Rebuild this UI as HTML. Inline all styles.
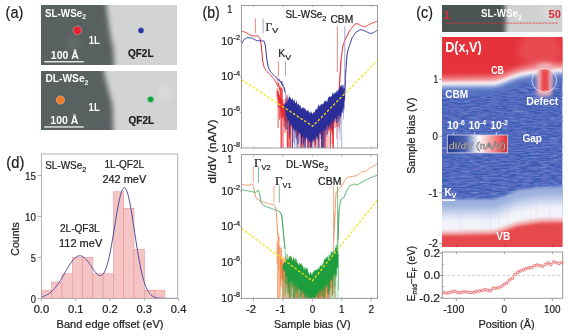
<!DOCTYPE html>
<html><head><meta charset="utf-8"><style>
html,body{margin:0;padding:0;background:#fff;}
svg{display:block;will-change:transform;}
text[fill="#222"],text[fill="#1a1a1a"],text[fill="#1e1e1e"]{stroke:#222;stroke-width:0.22px;}
</style></head><body>
<svg width="568" height="336" viewBox="0 0 568 336">
<defs>
<filter id="blur2" x="-20%" y="-20%" width="140%" height="140%"><feGaussianBlur stdDeviation="2.2"/></filter>
<filter id="blur35" x="-20%" y="-20%" width="140%" height="140%"><feGaussianBlur stdDeviation="2.6"/></filter>
<filter id="blur1" x="-20%" y="-20%" width="140%" height="140%"><feGaussianBlur stdDeviation="1"/></filter>
<filter id="blurS" x="-50%" y="-50%" width="200%" height="200%"><feGaussianBlur stdDeviation="4"/></filter>
<clipPath id="cstm5"><rect x="41" y="5" width="136" height="60"/></clipPath><clipPath id="cstm71"><rect x="41" y="71" width="136" height="59"/></clipPath><clipPath id="clipTop"><rect x="241.5" y="5.5" width="136.0" height="142.5"/></clipPath><clipPath id="clipBot"><rect x="241.5" y="155.2" width="136.0" height="143.2"/></clipPath><clipPath id="cstrip"><rect x="442" y="5" width="120.5" height="27"/></clipPath><clipPath id="cmap"><rect x="442.0" y="37.0" width="120.5" height="210.0"/></clipPath><filter id="streak" x="0" y="0" width="100%" height="100%">
<feTurbulence type="fractalNoise" baseFrequency="0.1 0.8" numOctaves="2" seed="5" result="t"/>
<feColorMatrix in="t" type="matrix" values="0 0 0 0 0.5  0 0 0 0 0.6  0 0 0 0 0.92  2.2 0 0 0 -1.0"/>
</filter>
<filter id="streak2" x="0" y="0" width="100%" height="100%">
<feTurbulence type="fractalNoise" baseFrequency="0.12 0.7" numOctaves="2" seed="9" result="t"/>
<feColorMatrix in="t" type="matrix" values="0 0 0 0 0.12  0 0 0 0 0.16  0 0 0 0 0.55  3.6 0 0 0 -1.45"/>
</filter>
<filter id="vstreak" x="0" y="0" width="100%" height="100%">
<feTurbulence type="fractalNoise" baseFrequency="0.5 0.02" numOctaves="1" seed="2" result="t"/>
<feColorMatrix in="t" type="matrix" values="0 0 0 0 0.45  0 0 0 0 0.55  0 0 0 0 0.85  1.6 0 0 0 -0.75"/>
</filter>
<filter id="bdef" x="-100%" y="-50%" width="300%" height="200%"><feGaussianBlur stdDeviation="2.5"/></filter>
<filter id="b15" x="-10%" y="-10%" width="120%" height="120%"><feGaussianBlur stdDeviation="1.5"/></filter>
<filter id="b3" x="-10%" y="-30%" width="120%" height="160%"><feGaussianBlur stdDeviation="3"/></filter>
<linearGradient id="cbar" x1="0" x2="1" y1="0" y2="0"><stop offset="0" stop-color="#24398f"/><stop offset="0.3" stop-color="#4c64b2"/><stop offset="0.52" stop-color="#ffffff"/><stop offset="0.72" stop-color="#f2a4a6"/><stop offset="1" stop-color="#e5262e"/></linearGradient>
</defs>
<rect width="568" height="336" fill="#fff"/>
<text x="5.6" y="18.3" font-size="16.9" font-weight="normal" fill="#1a1a1a" text-anchor="start" font-family='"Liberation Sans", sans-serif' textLength="17.8" lengthAdjust="spacingAndGlyphs" >(a)</text>
<g clip-path="url(#cstm5)">
<rect x="41" y="5" width="136" height="60" fill="#d2d3d3"/>
<polygon points="30,-5 105.5,-5 107.5,15 110.5,35 113.5,50 114.5,75 30,75" fill="#596060" filter="url(#blur35)"/>
<circle cx="73" cy="43" r="5" fill="#8a9090" opacity="0.5" filter="url(#blurS)"/>
</g>
<circle cx="77.3" cy="30.4" r="4.2" fill="#e8202a" stroke="#ffffff" stroke-opacity="0.45" stroke-width="0.7"/>
<circle cx="141" cy="30.6" r="3.0" fill="#2a32a0" stroke="#ffffff" stroke-opacity="0.45" stroke-width="0.7"/>
<text x="45" y="16.7" font-size="10.9" font-weight="bold" fill="#fff" text-anchor="start" font-family='"Liberation Sans", sans-serif' textLength="41" lengthAdjust="spacingAndGlyphs" >SL-WSe<tspan font-size="7.5" dy="2.5">2</tspan></text>
<text x="88.7" y="43.8" font-size="10" font-weight="bold" fill="#fff" text-anchor="start" font-family='"Liberation Sans", sans-serif' textLength="11.2" lengthAdjust="spacingAndGlyphs" >1L</text>
<text x="128" y="57.2" font-size="10.3" font-weight="bold" fill="#1e1e1e" text-anchor="start" font-family='"Liberation Sans", sans-serif' textLength="25.5" lengthAdjust="spacingAndGlyphs" >QF2L</text>
<text x="50.8" y="59.2" font-size="10.3" font-weight="bold" fill="#fff" text-anchor="start" font-family='"Liberation Sans", sans-serif' textLength="28" lengthAdjust="spacingAndGlyphs" >100 Å</text>
<rect x="44.3" y="61.1" width="39.5" height="1.3" fill="#f2f2f2"/>
<g clip-path="url(#cstm71)">
<rect x="41" y="71" width="136" height="59" fill="#d2d3d3"/>
<polygon points="30,60 102.5,60 104.5,75 108.5,90 112.5,105 113.5,140 30,140" fill="#596060" filter="url(#blur35)"/>
<circle cx="165" cy="93" r="4" fill="#ffffff" opacity="0.6" filter="url(#blurS)"/>
</g>
<circle cx="60.4" cy="100" r="4.2" fill="#f07a2a" stroke="#ffffff" stroke-opacity="0.45" stroke-width="0.7"/>
<circle cx="150.6" cy="99.4" r="3.2" fill="#18a040" stroke="#ffffff" stroke-opacity="0.45" stroke-width="0.7"/>
<text x="45.5" y="82.2" font-size="10.9" font-weight="bold" fill="#fff" text-anchor="start" font-family='"Liberation Sans", sans-serif' textLength="43" lengthAdjust="spacingAndGlyphs" >DL-WSe<tspan font-size="7.5" dy="2.5">2</tspan></text>
<text x="88.6" y="111.3" font-size="10" font-weight="bold" fill="#fff" text-anchor="start" font-family='"Liberation Sans", sans-serif' textLength="11.2" lengthAdjust="spacingAndGlyphs" >1L</text>
<text x="128.6" y="124.2" font-size="10.3" font-weight="bold" fill="#1e1e1e" text-anchor="start" font-family='"Liberation Sans", sans-serif' textLength="25.5" lengthAdjust="spacingAndGlyphs" >QF2L</text>
<text x="50.3" y="124.2" font-size="10.3" font-weight="bold" fill="#fff" text-anchor="start" font-family='"Liberation Sans", sans-serif' textLength="28" lengthAdjust="spacingAndGlyphs" >100 Å</text>
<rect x="44.3" y="126.3" width="39.5" height="1.3" fill="#f2f2f2"/>
<text x="202.6" y="17.9" font-size="16.4" font-weight="normal" fill="#1a1a1a" text-anchor="start" font-family='"Liberation Sans", sans-serif' textLength="17.2" lengthAdjust="spacingAndGlyphs" >(b)</text>
<g clip-path="url(#clipTop)">
<polyline points="277.0,76.3 277.2,78.9 277.4,80.1 277.6,81.1 277.8,82.7 278.0,84.3 278.2,82.4 278.4,86.6 278.6,86.1 278.8,83.8 279.0,89.1 279.2,88.8 279.4,89.0 279.6,87.1 279.8,91.5 280.0,85.7 280.2,88.5 280.4,100.5 280.6,88.0 280.8,92.2 281.0,99.3 281.2,112.8 281.4,91.6 281.6,87.4 281.8,107.8 282.0,104.8 282.2,88.7 282.4,102.5 282.6,118.2 282.8,99.7 283.0,156.4 283.2,103.6 283.4,108.6 283.6,105.5 283.8,105.8 284.0,110.0 284.2,126.8 284.4,122.5 284.6,114.9 284.8,111.4 285.0,105.6 285.2,98.7 285.4,115.0 285.6,102.5 285.8,102.2 286.0,112.3 286.2,102.3 286.4,109.4 286.6,110.1 286.8,123.0 287.0,95.4 287.2,110.7 287.4,108.9 287.6,147.3 287.8,103.4 288.0,112.8 288.2,110.9 288.4,105.4 288.6,101.7 288.8,110.9 289.0,103.4 289.2,130.2 289.4,138.6 289.6,107.1 289.8,112.4 290.0,115.6 290.2,114.3 290.4,151.7 290.6,112.3 290.8,121.6 291.0,115.5 291.2,102.3 291.4,114.2 291.6,114.8 291.8,104.6 292.0,101.9 292.2,114.1 292.4,152.3 292.6,112.4 292.8,110.9 293.0,110.7 293.2,105.8 293.4,127.4 293.6,121.0 293.8,105.7 294.0,117.9 294.2,109.4 294.4,117.7 294.6,107.9 294.8,104.6 295.0,109.1 295.2,111.3 295.4,111.8 295.6,121.8 295.8,106.3 296.0,107.6 296.2,110.6 296.4,139.5 296.6,132.2 296.8,116.0 297.0,125.4 297.2,119.6 297.4,123.8 297.6,112.7 297.8,121.4 298.0,111.6 298.2,109.4 298.4,136.4 298.6,128.0 298.8,127.1 299.0,109.0 299.2,114.9 299.4,120.1 299.6,123.2 299.8,108.0 300.0,123.0 300.2,116.5 300.4,122.2 300.6,111.4 300.8,117.9 301.0,115.2 301.2,154.0 301.4,140.9 301.6,119.1 301.8,146.5 302.0,123.9 302.2,129.7 302.4,124.3 302.6,137.9 302.8,121.2 303.0,112.2 303.2,109.0 303.4,122.1 303.6,123.0 303.8,127.5 304.0,122.5 304.2,142.4 304.4,125.4 304.6,120.8 304.8,113.7 305.0,131.9 305.2,129.5 305.4,133.8 305.6,127.1 305.8,117.8 306.0,126.5 306.2,110.8 306.4,125.1 306.6,132.8 306.8,121.2 307.0,117.6 307.2,131.1 307.4,121.4 307.6,164.4 307.8,121.3 308.0,125.5 308.2,124.2 308.4,152.9 308.6,152.3 308.8,133.3 309.0,115.8 309.2,129.6 309.4,122.0 309.6,113.3 309.8,113.5 310.0,131.6 310.2,125.6 310.4,148.8 310.6,114.1 310.8,123.3 311.0,136.1 311.2,129.4 311.4,122.9 311.6,116.8 311.8,141.3 312.0,124.5 312.2,136.7 312.4,128.7 312.6,128.2 312.8,116.6 313.0,133.0 313.2,128.4 313.4,129.6 313.6,122.0 313.8,136.5 314.0,130.7 314.2,130.5 314.4,119.2 314.6,132.1 314.8,130.0 315.0,145.0 315.2,133.3 315.4,131.9 315.6,146.9 315.8,137.2 316.0,129.1 316.2,116.2 316.4,124.9 316.6,124.7 316.8,126.0 317.0,110.8 317.2,119.1 317.4,122.7 317.6,132.3 317.8,118.7 318.0,126.6 318.2,226.3 318.4,124.1 318.6,124.4 318.8,125.0 319.0,109.3 319.2,131.3 319.4,125.7 319.6,126.3 319.8,130.5 320.0,133.6 320.2,109.5 320.4,117.3 320.6,123.7 320.8,134.6 321.0,114.4 321.2,121.1 321.4,150.6 321.6,121.6 321.8,120.0 322.0,119.2 322.2,118.2 322.4,111.2 322.6,108.7 322.8,139.4 323.0,121.0 323.2,129.5 323.4,112.8 323.6,131.0 323.8,155.1 324.0,118.7 324.2,122.3 324.4,108.3 324.6,104.7 324.8,115.0 325.0,157.1 325.2,117.4 325.4,104.0 325.6,122.7 325.8,107.3 326.0,105.3 326.2,124.1 326.4,120.5 326.6,124.1 326.8,110.3 327.0,110.2 327.2,108.2 327.4,122.2 327.6,102.3 327.8,124.1 328.0,114.4 328.2,131.1 328.4,101.6 328.6,123.7 328.8,118.8 329.0,116.5 329.2,115.1 329.4,100.8 329.6,110.8 329.8,103.3 330.0,128.9 330.2,101.5 330.4,156.6 330.6,124.1 330.8,124.7 331.0,121.6 331.2,116.5 331.4,104.8 331.6,130.1 331.8,106.1 332.0,132.9 332.2,112.8 332.4,113.1 332.6,134.8 332.8,118.4 333.0,183.8 333.2,101.8 333.4,149.4 333.6,97.5 333.8,123.2 334.0,110.8 334.2,97.0 334.4,111.6 334.6,114.9 334.8,113.9 335.0,111.0 335.2,112.3 335.4,112.1 335.6,105.8 335.8,115.6 336.0,95.1 336.2,101.3 336.4,106.0 336.6,109.0 336.8,100.6 337.0,126.6 337.2,100.2 337.4,96.8 337.6,111.9 337.8,95.4 338.0,102.1 338.2,103.5 338.4,97.4 338.6,98.2 338.8,95.0 339.0,92.3 339.2,87.7 339.4,85.0 339.6,83.1 339.8,79.6 340.0,76.7 340.2,73.1 340.4,69.9 340.6,66.7 340.8,63.3 341.0,60.0" fill="none" stroke="#e8222a" stroke-width="0.5" stroke-opacity="1.0" stroke-linejoin="round"/>
<path d="M277.0,88.4V97.1M277.8,90.3V99.9M278.1,91.1V128.0M278.4,92.0V108.0M278.9,93.7V96.4M279.2,94.5V102.5M279.5,95.5V119.7M279.8,96.5V107.3M280.2,97.3V109.3M280.7,98.5V117.3M281.0,99.3V150.0M281.4,100.2V150.0M281.9,101.3V105.8M282.7,103.1V118.0M283.2,104.2V115.2M284.0,106.0V115.9M284.2,106.4V121.0M284.9,107.2V133.0M285.2,107.5V120.3M285.5,107.8V128.8M286.5,108.8V116.4M287.2,109.4V150.0M287.9,109.2V114.0M288.2,109.1V113.9M288.7,109.0V150.0M289.3,108.8V118.5M289.9,109.1V150.0" stroke="#e8222a" stroke-width="0.75" stroke-opacity="1.0" fill="none"/>
<path d="M290.0,109.5V137.7M290.3,110.9V116.5M290.9,114.6V123.8M291.2,115.7V128.4M292.6,117.1V124.4M293.2,117.7V129.4M293.4,117.9V129.3M294.5,118.9V132.9M296.0,120.1V134.8M297.2,121.0V136.0M297.5,121.2V130.2M298.1,121.6V134.4M298.5,122.0V130.6M299.2,122.5V150.0M299.8,122.9V133.0M300.6,123.5V150.0M300.9,123.8V137.4M301.2,124.0V130.5M301.8,124.5V150.0M302.6,125.1V150.0M303.4,125.6V150.0M304.7,126.6V150.0M304.9,126.8V141.8M305.2,127.0V140.1M305.7,127.4V136.5M306.1,127.7V137.0M306.7,128.2V135.9M307.1,128.5V137.4M308.4,129.4V143.6M308.6,129.6V136.6M309.1,130.0V147.4M309.5,130.3V136.7M310.5,131.0V150.0M310.8,131.2V150.0M311.6,131.8V150.0M313.4,130.7V142.6M314.7,129.6V148.4M315.1,129.3V150.0M315.4,129.1V139.8M316.0,128.6V134.6M316.5,128.2V139.1M318.9,126.3V140.0M319.6,125.7V150.0M321.8,123.9V138.2M322.7,123.2V134.4M323.1,122.9V141.9M323.3,122.7V130.0M323.9,122.3V150.0M324.4,121.9V150.0M325.1,121.3V132.6M326.8,119.9V150.0M328.0,118.9V147.0M329.3,117.9V132.5M329.9,117.5V127.1M330.1,117.3V150.0M330.9,116.7V143.6M332.5,115.3V143.8M332.8,115.1V127.2M333.7,114.4V120.9M334.3,113.9V128.4M335.3,112.8V127.8M336.7,111.4V138.7M337.5,110.6V118.6M338.3,109.2V126.7M338.5,108.4V113.7M339.1,106.8V128.3M339.5,105.7V120.6M339.9,104.4V107.6M340.5,102.7V107.4" stroke="#e8222a" stroke-width="0.6" stroke-opacity="0.75" fill="none"/>
<polyline points="241.5,31.0 242.0,31.2 242.5,31.3 243.0,31.5 243.5,31.7 244.0,31.8 244.5,32.0 245.0,32.2 245.5,32.3 246.0,32.5 246.5,32.8 247.0,33.1 247.5,33.4 248.0,33.8 248.5,34.1 249.0,34.4 249.5,34.7 250.0,35.0 250.5,35.1 251.0,35.2 251.5,35.4 252.0,35.5 252.5,35.6 253.0,35.8 253.5,35.9 254.0,36.0 254.5,36.0 255.0,36.0 255.5,36.0 256.0,36.0 256.5,36.0 257.0,36.0 257.5,36.0 258.0,36.0 258.5,36.5 259.0,37.0 259.5,37.5 260.0,38.0 260.5,41.0 261.0,44.0 261.5,47.0 262.0,53.5 262.5,60.0 263.0,62.3 263.5,64.7 264.0,67.0 264.5,67.9 265.0,68.8 265.5,69.6 266.0,70.5 266.5,71.0 267.0,71.5 267.5,71.9 268.0,72.4 268.5,72.9 269.0,73.3 269.5,73.8 270.0,74.3 270.5,74.9 271.0,75.5 271.5,76.1 272.0,76.8 272.5,77.4 273.0,78.0 273.5,78.6 274.0,79.2 274.5,79.9 275.0,80.8 275.5,81.7 276.0,82.5 276.5,83.4 277.0,84.3 277.5,85.4 278.0,86.9" fill="none" stroke="#ea2a30" stroke-width="1.0" stroke-opacity="1.0" stroke-linejoin="round"/>
<polyline points="338.5,101.7 339.0,93.3 339.5,85.0 340.0,76.7 340.5,68.3 341.0,60.0 341.5,56.2 342.0,52.5 342.5,48.8 343.0,45.0 343.5,43.8 344.0,42.5 344.5,41.2 345.0,40.0 345.5,39.0 346.0,38.0 346.5,37.0 347.0,36.0 347.5,35.0 348.0,34.0 348.5,33.0 349.0,32.0 349.5,31.0 350.0,30.0 350.5,29.4 351.0,28.8 351.5,28.2 352.0,27.6 352.5,27.0 353.0,26.4 353.5,25.8 354.0,25.2 354.5,24.6 355.0,24.0 355.5,23.9 356.0,23.8 356.5,23.6 357.0,23.5 357.5,23.8 358.0,24.0 358.5,24.2 359.0,24.5 359.5,24.8 360.0,25.0 360.5,25.2 361.0,25.5 361.5,25.8 362.0,26.0 362.5,26.2 363.0,26.3 363.5,26.5 364.0,26.7 364.5,26.8 365.0,27.0 365.5,26.7 366.0,26.4 366.5,26.1 367.0,25.8 367.5,25.5 368.0,25.2 368.5,24.9 369.0,24.6 369.5,24.3 370.0,24.0 370.5,23.8 371.0,23.6 371.5,23.4 372.0,23.2 372.5,23.0 373.0,22.8 373.5,22.6 374.0,22.4 374.5,22.2 375.0,22.0 375.5,21.8 376.0,21.6 376.5,21.4 377.0,21.2 377.5,21.0" fill="none" stroke="#ea2a30" stroke-width="1.0" stroke-opacity="1.0" stroke-linejoin="round"/>
<polyline points="279.0,79.9 279.1,78.7 279.3,80.5 279.4,80.8 279.6,80.2 279.7,80.3 279.9,81.1 280.0,80.9 280.2,81.2 280.3,81.4 280.5,81.7 280.6,81.6 280.8,81.2 280.9,82.2 281.1,82.5 281.2,82.4 281.4,82.6 281.5,82.2 281.7,83.2 281.8,84.0 282.0,81.1 282.1,83.9 282.3,84.6 282.4,84.9 282.6,83.9 282.7,85.3 282.9,84.7 283.0,84.9 283.2,85.5 283.3,86.1 283.5,86.3 283.6,86.9 283.8,86.8 283.9,87.1 284.1,87.3 284.2,88.0 284.4,88.1 284.5,89.6 284.7,90.0 284.8,89.7 285.0,91.8 285.1,91.8 285.3,91.8 285.4,92.8 285.6,93.6 285.7,93.2 285.9,94.6 286.0,97.6 286.2,104.6 286.3,106.8 286.5,113.8 286.6,102.9 286.8,103.0 286.9,129.7 287.1,99.8 287.2,111.5 287.4,110.0 287.5,117.5 287.7,117.8 287.8,111.1 288.0,97.5 288.1,101.5 288.3,120.0 288.4,109.4 288.6,116.3 288.7,109.7 288.9,117.5 289.0,110.0 289.2,101.9 289.3,98.8 289.5,97.1 289.6,135.1 289.8,109.7 289.9,113.7 290.1,105.0 290.2,113.2 290.4,116.4 290.5,123.6 290.7,107.3 290.8,112.3 291.0,113.2 291.1,104.5 291.3,115.9 291.4,116.7 291.6,117.6 291.7,114.5 291.9,110.3 292.0,118.2 292.2,106.3 292.3,161.3 292.5,104.8 292.6,104.4 292.8,110.6 292.9,121.9 293.1,108.3 293.2,112.8 293.4,122.8 293.5,121.2 293.7,121.6 293.8,125.9 294.0,124.9 294.1,121.8 294.3,129.0 294.4,111.9 294.6,119.6 294.7,111.1 294.9,110.9 295.0,108.7 295.2,117.9 295.3,114.7 295.5,111.7 295.6,119.8 295.8,112.7 295.9,102.7 296.1,120.6 296.2,111.2 296.4,125.9 296.5,112.8 296.7,122.0 296.8,115.6 297.0,117.4 297.1,123.7 297.3,117.3 297.4,124.0 297.6,122.5 297.7,110.9 297.9,144.2 298.0,126.2 298.2,116.4 298.3,109.0 298.5,119.5 298.6,117.9 298.8,113.9 298.9,123.9 299.1,105.6 299.2,108.5 299.4,109.6 299.5,126.1 299.7,121.4 299.8,119.1 300.0,116.8 300.1,115.7 300.3,117.1 300.4,122.1 300.6,123.0 300.7,121.7 300.9,119.7 301.0,115.2 301.2,120.6 301.3,117.1 301.5,143.7 301.6,121.5 301.8,119.7 301.9,117.7 302.1,120.1 302.2,117.6 302.4,120.8 302.5,127.4 302.7,125.1 302.8,121.4 303.0,127.6 303.1,127.9 303.3,109.8 303.4,144.4 303.6,124.9 303.7,115.6 303.9,121.0 304.0,128.4 304.2,127.6 304.3,120.8 304.5,121.6 304.6,119.0 304.8,127.5 304.9,131.5 305.1,120.9 305.2,132.1 305.4,129.8 305.5,152.0 305.7,114.2 305.8,124.0 306.0,116.7 306.1,120.5 306.3,120.5 306.4,133.5 306.6,117.4 306.7,127.0 306.9,122.2 307.0,124.8 307.2,135.5 307.3,120.8 307.5,132.9 307.6,127.2 307.8,126.0 307.9,135.1 308.1,133.9 308.2,133.4 308.4,125.5 308.5,120.3 308.7,121.9 308.8,120.8 309.0,122.6 309.1,125.7 309.3,132.4 309.4,123.8 309.6,114.9 309.7,131.7 309.9,125.0 310.0,123.9 310.2,123.8 310.3,131.3 310.5,125.3 310.6,125.0 310.8,140.4 310.9,134.9 311.1,158.0 311.2,123.2 311.4,137.4 311.5,127.7 311.7,141.2 311.8,146.4 312.0,125.9 312.1,122.3 312.3,131.7 312.4,134.5 312.6,129.5 312.7,127.9 312.9,123.5 313.0,133.8 313.2,125.2 313.3,129.8 313.5,123.8 313.6,127.4 313.8,122.9 313.9,132.0 314.1,126.6 314.2,131.7 314.4,121.8 314.5,125.4 314.7,121.8 314.8,121.0 315.0,122.3 315.1,119.4 315.3,130.9 315.4,113.3 315.6,118.4 315.7,110.0 315.9,125.7 316.0,123.9 316.2,128.1 316.3,123.0 316.5,125.3 316.6,121.5 316.8,116.2 316.9,136.1 317.1,120.3 317.2,123.5 317.4,129.5 317.5,132.4 317.7,137.6 317.8,116.4 318.0,119.8 318.1,122.5 318.3,140.3 318.4,109.9 318.6,112.6 318.7,119.0 318.9,109.0 319.0,113.9 319.2,110.3 319.3,131.8 319.5,126.4 319.6,112.1 319.8,127.5 319.9,120.7 320.1,119.5 320.2,122.7 320.4,118.1 320.5,124.0 320.7,125.6 320.8,129.3 321.0,108.9 321.1,115.8 321.3,127.8 321.4,113.0 321.6,149.4 321.7,119.0 321.9,113.4 322.0,115.7 322.2,103.8 322.3,114.8 322.5,121.0 322.6,149.1 322.8,129.1 322.9,129.0 323.1,165.5 323.2,122.5 323.4,125.1 323.5,120.4 323.7,119.7 323.8,111.2 324.0,104.7 324.1,122.6 324.3,119.3 324.4,111.1 324.6,121.3 324.7,109.1 324.9,125.6 325.0,118.6 325.2,111.8 325.3,113.5 325.5,110.3 325.6,100.8 325.8,125.4 325.9,108.7 326.1,124.6 326.2,110.6 326.4,105.9 326.5,120.2 326.7,117.5 326.8,118.4 327.0,114.7 327.1,134.7 327.3,112.7 327.4,103.7 327.6,107.7 327.7,117.1 327.9,124.2 328.0,110.6 328.2,111.7 328.3,113.0 328.5,105.5 328.6,108.0 328.8,107.4 328.9,112.9 329.1,114.3 329.2,115.2 329.4,108.9 329.5,115.1 329.7,106.2 329.8,110.1 330.0,111.3 330.1,115.8 330.3,105.4 330.4,100.5 330.6,128.3 330.7,111.3 330.9,116.2 331.0,101.2 331.2,120.4 331.3,116.8 331.5,117.7 331.6,110.8 331.8,103.2 331.9,108.6 332.1,101.8 332.2,119.4 332.4,121.3 332.5,114.0 332.7,119.8 332.8,97.2 333.0,111.2 333.1,106.5 333.3,109.0 333.4,110.8 333.6,105.3 333.7,93.6 333.9,110.9 334.0,110.6 334.2,112.8 334.3,111.9 334.5,108.3 334.6,98.9 334.8,105.1 334.9,92.5 335.1,112.3 335.2,113.4 335.4,103.2 335.5,101.9 335.7,105.4 335.8,102.2 336.0,115.8 336.1,95.3 336.3,97.5 336.4,118.4 336.6,122.7 336.7,98.4 336.9,109.7 337.0,103.7 337.2,110.1 337.3,99.4 337.5,99.6 337.6,97.7 337.8,110.7 337.9,109.9 338.1,98.1 338.2,108.0 338.4,94.6 338.5,112.7 338.7,95.6 338.8,100.5 339.0,103.6 339.1,115.6 339.3,105.6 339.4,107.9 339.6,106.2 339.7,110.1 339.9,109.4 340.0,113.7 340.2,116.3 340.3,94.0 340.5,98.1 340.6,100.4 340.8,100.8 340.9,92.6 341.1,96.4 341.2,110.9 341.4,89.8 341.5,87.3 341.7,109.7 341.8,105.6 342.0,101.3 342.1,95.2 342.3,92.6 342.4,103.2 342.6,94.4 342.7,100.0 342.9,97.1 343.0,102.7 343.2,104.9 343.3,85.4 343.5,101.9 343.6,89.5 343.8,104.0 343.9,108.8 344.1,99.6 344.2,97.3 344.4,97.7 344.5,88.0 344.7,90.6 344.8,88.1 345.0,87.5 345.1,82.4 345.3,79.5 345.4,76.1 345.6,73.3 345.7,71.6 345.9,69.6" fill="none" stroke="#2b2e98" stroke-width="0.5" stroke-opacity="1.0" stroke-linejoin="round"/>
<polygon points="284.0,104.5 284.5,104.4 285.0,102.2 285.5,104.1 286.0,102.1 286.5,102.9 287.0,103.2 287.5,102.8 288.0,100.4 288.5,99.8 289.0,97.8 289.5,94.1 290.0,99.6 290.5,97.2 291.0,98.4 291.5,99.7 292.0,99.8 292.5,97.7 293.0,99.6 293.5,102.1 294.0,99.1 294.5,99.7 295.0,103.1 295.5,102.9 296.0,103.7 296.5,99.7 297.0,102.0 297.5,105.8 298.0,103.6 298.5,103.6 299.0,104.7 299.5,106.3 300.0,105.6 300.5,105.3 301.0,108.0 301.5,108.7 302.0,108.1 302.5,108.1 303.0,106.8 303.5,107.6 304.0,109.6 304.5,108.5 305.0,107.5 305.5,109.2 306.0,110.9 306.5,110.5 307.0,111.8 307.5,110.1 308.0,110.0 308.5,110.9 309.0,112.5 309.5,112.7 310.0,111.0 310.5,114.4 311.0,111.1 311.5,112.4 312.0,112.8 312.5,114.5 313.0,112.9 313.5,111.2 314.0,113.4 314.5,111.2 315.0,112.9 315.5,109.1 316.0,109.7 316.5,108.2 317.0,110.5 317.5,107.4 318.0,106.3 318.5,103.4 319.0,107.5 319.5,104.7 320.0,106.8 320.5,104.8 321.0,104.2 321.5,103.9 322.0,105.6 322.5,105.3 323.0,104.1 323.5,102.9 324.0,103.6 324.5,100.4 325.0,100.7 325.5,101.9 326.0,100.3 326.5,101.9 327.0,101.7 327.5,100.8 328.0,97.5 328.5,97.3 329.0,97.8 329.5,96.3 330.0,96.1 330.5,97.1 331.0,96.9 331.5,95.2 332.0,96.0 332.5,92.2 333.0,93.1 333.5,94.0 334.0,95.0 334.5,93.2 335.0,94.0 335.5,92.1 336.0,93.3 336.5,90.1 337.0,92.5 337.5,91.0 338.0,89.1 338.5,91.0 339.0,88.9 339.5,88.0 340.0,86.3 340.5,85.4 341.0,87.4 341.5,84.9 342.0,84.0 342.5,86.0 343.0,88.3 343.5,87.6 344.0,92.6 344.5,94.4 345.0,94.1 345.0,98.5 344.5,100.2 344.0,102.8 343.5,107.0 343.0,107.6 342.5,112.1 342.0,113.5 341.5,112.4 341.0,116.1 340.5,117.1 340.0,117.5 339.5,114.3 339.0,116.3 338.5,114.7 338.0,114.5 337.5,117.8 337.0,117.7 336.5,120.1 336.0,117.6 335.5,118.6 335.0,118.6 334.5,120.3 334.0,122.2 333.5,120.5 333.0,120.3 332.5,124.6 332.0,124.6 331.5,121.3 331.0,125.7 330.5,122.9 330.0,124.0 329.5,126.5 329.0,126.4 328.5,129.0 328.0,126.1 327.5,124.6 327.0,126.5 326.5,126.6 326.0,131.5 325.5,128.7 325.0,131.4 324.5,130.6 324.0,127.4 323.5,130.9 323.0,130.5 322.5,132.6 322.0,130.9 321.5,130.2 321.0,130.1 320.5,132.6 320.0,133.7 319.5,133.0 319.0,132.5 318.5,138.3 318.0,136.3 317.5,137.5 317.0,136.0 316.5,135.6 316.0,138.8 315.5,137.9 315.0,139.4 314.5,139.9 314.0,138.6 313.5,139.2 313.0,142.8 312.5,141.1 312.0,139.1 311.5,144.2 311.0,142.2 310.5,140.0 310.0,141.7 309.5,141.7 309.0,142.8 308.5,137.4 308.0,140.1 307.5,138.8 307.0,141.2 306.5,135.9 306.0,139.0 305.5,139.0 305.0,139.1 304.5,139.2 304.0,134.7 303.5,135.5 303.0,138.5 302.5,136.2 302.0,137.7 301.5,135.6 301.0,136.7 300.5,133.8 300.0,133.0 299.5,132.8 299.0,134.6 298.5,132.0 298.0,131.0 297.5,132.3 297.0,129.1 296.5,128.2 296.0,132.0 295.5,131.3 295.0,129.6 294.5,128.3 294.0,132.0 293.5,128.5 293.0,127.3 292.5,128.2 292.0,125.6 291.5,125.5 291.0,126.8 290.5,123.8 290.0,125.0 289.5,124.1 289.0,121.3 288.5,119.2 288.0,121.2 287.5,116.0 287.0,116.4 286.5,116.6 286.0,113.3 285.5,110.9 285.0,107.5 284.5,107.5 284.0,110.6" fill="#2b2e98"/>
<path d="M284.0,106.7V108.1M284.7,107.5V116.6M285.5,108.9V130.6M286.7,111.2V120.1M288.5,114.8V128.7M293.5,121.0V142.1M294.4,121.8V144.6M294.7,122.1V150.0M295.5,122.7V137.7M296.2,123.1V150.0M296.5,123.3V137.7M296.7,123.4V131.3M297.1,123.7V150.0M297.7,124.1V150.0M298.0,124.4V150.0M299.2,125.2V141.1M301.1,126.5V149.7M301.4,126.7V143.1M303.0,127.9V137.3M303.3,128.0V150.0M303.9,128.5V150.0M304.3,128.8V150.0M304.5,128.9V137.2M304.8,129.1V149.0M305.8,129.8V139.6M307.1,130.7V150.0M308.6,131.8V150.0M309.2,132.2V140.1M309.7,132.5V150.0M310.2,132.9V141.6M311.7,134.0V150.0M313.2,132.7V150.0M313.8,132.1V141.2M314.4,131.5V141.9M315.5,130.4V143.8M316.3,129.7V150.0M316.8,129.2V139.4M318.1,128.0V150.0M318.7,127.4V150.0M319.0,127.1V150.0M320.1,126.0V134.6M320.7,125.5V139.0M321.4,124.8V149.0M323.8,122.6V132.9M325.1,121.5V142.2M325.4,121.2V150.0M326.1,120.6V137.1M327.2,119.7V129.1M328.4,118.6V129.5M332.3,115.2V130.3M332.9,114.7V129.4M335.0,112.7V122.2M336.0,111.6V121.4M337.1,110.5V123.0M337.7,109.9V150.0M338.1,109.4V120.8M338.5,109.1V122.1M339.1,108.4V132.5M339.8,107.7V118.9M340.1,107.4V140.4M340.7,107.1V124.6M341.2,106.8V115.2M341.7,106.6V150.0M342.8,104.2V112.1M343.5,102.3V119.3M343.7,101.6V113.4" stroke="#2b2e98" stroke-width="0.6" stroke-opacity="0.55" fill="none"/>
<polyline points="241.5,44.0 242.0,43.1 242.5,42.2 243.0,41.3 243.5,40.4 244.0,39.5 244.5,39.2 245.0,38.9 245.5,38.6 246.0,38.3 246.5,38.0 247.0,37.7 247.5,37.7 248.0,37.8 248.5,37.8 249.0,37.8 249.5,37.9 250.0,37.9 250.5,37.9 251.0,37.9 251.5,38.0 252.0,38.0 252.5,38.3 253.0,38.6 253.5,38.8 254.0,39.1 254.5,39.4 255.0,39.7 255.5,40.0 256.0,40.2 256.5,40.5 257.0,40.8 257.5,40.8 258.0,40.7 258.5,40.7 259.0,40.7 259.5,40.6 260.0,40.6 260.5,40.6 261.0,40.7 261.5,40.8 262.0,40.8 262.5,40.9 263.0,40.9 263.5,41.0 264.0,41.0 264.5,42.7 265.0,44.3 265.5,46.0 266.0,51.5 266.5,57.0 267.0,60.0 267.5,63.0 268.0,66.0 268.5,67.2 269.0,68.5 269.5,69.8 270.0,71.0 270.5,71.5 271.0,72.1 271.5,72.6 272.0,73.2 272.5,73.7 273.0,74.3 273.5,74.8 274.0,75.3 274.5,75.9 275.0,76.4 275.5,77.0 276.0,77.5 276.5,78.0 277.0,78.5 277.5,79.0 278.0,79.5 278.5,80.0 279.0,80.5 279.5,81.0 280.0,81.5 280.5,82.0 281.0,82.5 281.5,83.4 282.0,84.2 282.5,85.1 283.0,86.0 283.5,86.8 284.0,87.7 284.5,89.8 285.0,91.8" fill="none" stroke="#2f3398" stroke-width="1.0" stroke-opacity="1.0" stroke-linejoin="round"/>
<polyline points="344.5,100.0 345.0,87.5 345.5,75.0 346.0,68.3 346.5,61.7 347.0,55.0 347.5,52.5 348.0,50.0 348.5,48.5 349.0,47.0 349.5,45.5 350.0,44.0 350.5,42.5 351.0,41.0 351.5,39.5 352.0,38.0 352.5,37.2 353.0,36.5 353.5,35.8 354.0,35.0 354.5,34.2 355.0,33.5 355.5,32.8 356.0,32.0 356.5,31.8 357.0,31.5 357.5,31.2 358.0,31.0 358.5,30.8 359.0,30.5 359.5,30.2 360.0,30.0 360.5,29.8 361.0,29.5 361.5,29.7 362.0,29.9 362.5,30.1 363.0,30.2 363.5,30.4 364.0,30.6 364.5,30.8 365.0,31.0 365.5,31.3 366.0,31.5 366.5,31.8 367.0,32.0 367.5,32.2 368.0,32.5 368.5,32.8 369.0,33.0 369.5,33.2 370.0,33.5 370.5,33.4 371.0,33.3 371.5,33.2 372.0,33.2 372.5,33.1 373.0,33.0 373.5,32.7 374.0,32.3 374.5,32.0 375.0,31.7 375.5,31.3 376.0,31.0 376.5,30.7 377.0,30.3 377.5,30.0" fill="none" stroke="#2f3398" stroke-width="1.0" stroke-opacity="1.0" stroke-linejoin="round"/>
</g>
<g clip-path="url(#clipBot)">
<polyline points="278.0,233.0 278.2,234.1 278.4,239.2 278.6,241.8 278.8,240.4 279.0,237.1 279.2,244.8 279.4,247.1 279.6,253.9 279.8,253.2 280.0,247.1 280.2,248.3 280.4,260.8 280.6,260.2 280.8,268.0 281.0,287.3 281.2,262.9 281.4,247.9 281.6,251.2 281.8,258.9 282.0,278.1 282.2,263.0 282.4,273.4 282.6,265.8 282.8,332.0 283.0,257.4 283.2,263.2 283.4,265.9 283.6,271.4 283.8,262.9 284.0,269.2 284.2,265.6 284.4,259.3 284.6,263.3 284.8,282.4 285.0,264.3 285.2,256.4 285.4,258.6 285.6,268.9 285.8,259.9 286.0,267.5 286.2,271.6 286.4,266.9 286.6,265.0 286.8,265.5 287.0,275.0 287.2,270.2 287.4,263.8 287.6,262.4 287.8,268.6 288.0,268.5 288.2,289.3 288.4,269.7 288.6,292.5 288.8,268.5 289.0,279.0 289.2,256.3 289.4,296.4 289.6,269.2 289.8,277.7 290.0,346.5 290.2,296.6 290.4,276.4 290.6,264.0 290.8,266.2 291.0,264.2 291.2,266.3 291.4,277.0 291.6,268.7 291.8,258.7 292.0,276.5 292.2,262.3 292.4,276.5 292.6,273.4 292.8,263.3 293.0,268.1 293.2,273.4 293.4,266.3 293.6,277.3 293.8,274.5 294.0,279.5 294.2,274.4 294.4,281.9 294.6,273.1 294.8,270.1 295.0,299.3 295.2,271.7 295.4,265.7 295.6,281.7 295.8,279.9 296.0,261.8 296.2,264.5 296.4,275.0 296.6,278.8 296.8,298.5 297.0,262.6 297.2,275.5 297.4,272.6 297.6,277.9 297.8,272.8 298.0,299.7 298.2,273.9 298.4,268.7 298.6,281.8 298.8,283.7 299.0,279.5 299.2,267.0 299.4,286.4 299.6,281.7 299.8,289.3 300.0,280.8 300.2,279.5 300.4,274.9 300.6,297.3 300.8,286.2 301.0,269.5 301.2,278.3 301.4,288.2 301.6,271.0 301.8,285.0 302.0,271.7 302.2,357.7 302.4,281.3 302.6,285.0 302.8,270.9 303.0,283.5 303.2,306.4 303.4,280.2 303.6,283.8 303.8,290.2 304.0,277.4 304.2,280.5 304.4,294.6 304.6,271.6 304.8,299.4 305.0,339.8 305.2,287.5 305.4,291.6 305.6,275.8 305.8,284.8 306.0,305.1 306.2,273.1 306.4,283.8 306.6,282.3 306.8,292.8 307.0,270.9 307.2,276.6 307.4,273.0 307.6,293.4 307.8,288.8 308.0,278.2 308.2,284.1 308.4,279.9 308.6,294.4 308.8,290.6 309.0,295.2 309.2,282.8 309.4,283.3 309.6,282.9 309.8,283.2 310.0,274.9 310.2,288.8 310.4,294.8 310.6,288.5 310.8,275.2 311.0,277.4 311.2,293.2 311.4,303.9 311.6,285.3 311.8,280.9 312.0,317.2 312.2,281.3 312.4,274.4 312.6,277.6 312.8,274.0 313.0,288.3 313.2,293.9 313.4,291.4 313.6,306.0 313.8,292.9 314.0,283.5 314.2,301.2 314.4,285.5 314.6,277.2 314.8,298.1 315.0,286.1 315.2,321.8 315.4,296.2 315.6,281.4 315.8,291.9 316.0,311.9 316.2,290.3 316.4,270.4 316.6,273.4 316.8,286.3 317.0,291.8 317.2,269.7 317.4,296.9 317.6,277.3 317.8,277.8 318.0,277.5 318.2,290.7 318.4,300.2 318.6,286.2 318.8,297.0 319.0,299.3 319.2,289.7 319.4,277.6 319.6,309.1 319.8,295.0 320.0,282.5 320.2,285.5 320.4,285.4 320.6,305.5 320.8,314.9 321.0,269.3 321.2,299.0 321.4,291.4 321.6,276.5 321.8,284.4 322.0,283.4 322.2,302.3 322.4,268.2 322.6,283.7 322.8,279.5 323.0,301.4 323.2,274.7 323.4,274.7 323.6,283.4 323.8,279.8 324.0,291.9 324.2,272.4 324.4,271.8 324.6,278.6 324.8,286.7 325.0,277.5 325.2,278.2 325.4,270.3 325.6,273.3 325.8,272.7 326.0,281.8 326.2,292.8 326.4,274.4 326.6,270.9 326.8,274.6 327.0,278.1 327.2,280.5 327.4,265.9 327.6,278.3 327.8,306.4 328.0,274.9 328.2,281.1 328.4,272.0 328.6,275.7 328.8,280.6 329.0,273.0 329.2,298.5 329.4,278.6 329.6,276.3 329.8,267.4 330.0,277.2 330.2,273.3 330.4,263.1 330.6,282.2 330.8,288.0 331.0,269.2 331.2,266.7 331.4,270.5 331.6,260.5 331.8,288.7 332.0,264.9 332.2,268.9 332.4,264.9 332.6,260.7 332.8,264.4 333.0,268.9 333.2,255.4 333.4,251.2 333.6,239.9 333.8,236.0 334.0,232.2 334.2,228.2 334.4,224.2 334.6,220.4 334.8,216.5 335.0,212.6" fill="none" stroke="#f07838" stroke-width="0.5" stroke-opacity="1.0" stroke-linejoin="round"/>
<path d="M277.0,240.4V263.9M277.6,243.1V300.0M278.3,246.2V300.0M278.6,247.8V270.7M279.7,253.7V300.0M280.2,255.6V297.2M280.8,257.2V282.4M281.1,258.2V278.9M281.6,259.4V268.0M281.9,260.4V265.5M282.4,261.8V279.7M283.2,263.9V296.4M283.5,264.9V280.7M284.2,265.9V300.0M284.9,266.5V300.0M285.1,266.8V284.1M285.5,267.1V276.7M286.0,267.6V300.0M286.4,268.0V287.6M287.2,268.7V300.0M288.6,270.1V298.9M288.9,270.4V286.1M289.5,270.9V300.0M289.7,271.2V294.0M290.4,271.8V281.6M291.0,272.4V300.0M291.9,273.3V288.8M292.7,274.0V287.2M293.2,274.5V300.0M293.5,274.8V300.0M294.0,275.3V300.0M294.2,275.5V286.8M294.6,275.9V290.9M294.9,276.1V300.0M295.5,276.8V285.7M296.2,277.4V287.7M296.7,277.8V300.0M297.2,278.3V297.1M297.4,278.5V298.0M298.1,279.2V300.0M298.6,279.7V288.5M300.2,281.1V300.0M300.7,281.6V293.5M301.3,282.1V300.0M301.5,282.3V292.4M302.2,282.8V298.6M302.9,283.4V299.3M303.3,283.8V292.4M304.2,284.6V300.0M304.8,285.0V294.9M305.2,285.4V300.0M305.8,285.9V300.0M306.1,286.2V300.0M306.7,286.6V300.0M307.3,287.2V300.0M308.1,287.9V300.0M309.2,288.8V300.0M309.4,289.0V300.0M309.9,289.4V300.0M310.4,289.8V299.0M311.6,290.8V300.0M312.1,290.8V300.0M312.7,290.1V298.1M313.3,289.5V300.0M313.9,288.9V300.0M314.2,288.6V300.0M314.5,288.3V300.0M315.1,287.7V300.0M315.6,287.3V300.0M316.2,286.7V300.0M316.8,286.0V294.9M317.4,285.4V300.0M317.7,285.1V297.2M318.4,284.5V300.0M318.6,284.2V300.0M318.9,284.0V300.0M319.6,283.3V297.1M319.9,283.0V300.0M320.5,282.4V300.0M320.7,282.2V299.2M321.5,281.4V293.0M322.1,280.8V295.9M322.4,280.5V300.0M323.1,279.7V289.0M323.7,279.0V300.0M324.4,278.3V300.0M324.9,277.7V300.0M325.5,277.0V300.0M325.9,276.6V300.0M326.3,276.1V300.0M327.4,274.9V300.0M327.7,274.5V296.5M328.1,274.2V292.9M328.7,273.4V290.5M328.9,273.2V300.0M329.6,272.4V281.1M330.0,272.0V288.1M330.7,271.2V278.6M331.2,270.7V278.4M331.7,270.0V297.4M332.0,269.8V296.0M332.4,268.8V279.3M332.8,267.4V295.3M333.4,265.7V293.6M333.8,264.7V273.5M334.4,262.9V300.0" stroke="#f07838" stroke-width="0.7" stroke-opacity="0.85" fill="none"/>
<polyline points="241.5,183.9 242.0,184.1 242.5,184.3 243.0,184.5 243.5,184.6 244.0,184.8 244.5,185.0 245.0,185.1 245.5,185.1 246.0,185.1 246.5,185.1 247.0,185.1 247.5,185.1 248.0,185.1 248.5,185.1 249.0,185.1 249.5,185.1 250.0,184.8 250.5,184.6 251.0,184.4 251.5,184.1 252.0,184.0 252.5,184.7 253.0,185.3 253.5,186.7 254.0,189.1 254.5,191.5 255.0,193.9 255.5,196.4 256.0,197.4 256.5,198.4 257.0,199.0 257.5,199.2 258.0,199.5 258.5,199.7 259.0,200.0 259.5,200.2 260.0,200.5 260.5,200.8 261.0,201.0 261.5,201.2 262.0,201.5 262.5,201.8 263.0,202.0 263.5,202.2 264.0,202.4 264.5,202.6 265.0,202.7 265.5,202.8 266.0,202.9 266.5,203.1 267.0,203.2 267.5,203.3 268.0,203.4 268.5,203.6 269.0,203.7 269.5,203.8 270.0,203.9 270.5,204.1 271.0,204.2 271.5,204.3 272.0,204.3 272.5,204.4 273.0,204.4 273.5,204.5 274.0,204.6 274.5,205.4 275.0,206.1 275.5,206.8 276.0,209.6 276.5,215.2 277.0,223.3 277.5,231.0 278.0,236.9 278.5,242.9 279.0,248.5" fill="none" stroke="#f2804a" stroke-width="0.85" stroke-opacity="1.0" stroke-linejoin="round"/>
<polyline points="333.6,240.0 334.1,230.2 334.6,220.4 335.1,210.6 335.6,200.8 336.1,192.8 336.6,192.1 337.1,191.3 337.6,190.6 338.1,189.9 338.6,189.4 339.1,188.9 339.6,188.4 340.1,187.9 340.6,187.4 341.1,186.8 341.6,185.9 342.1,185.1 342.6,184.2 343.1,183.3 343.6,182.4 344.1,181.6 344.6,180.7 345.1,179.9 345.6,179.4 346.1,178.9 346.6,178.4 347.1,177.9 347.6,177.4 348.1,177.0 348.6,176.9 349.1,176.9 349.6,176.8 350.1,176.7 350.6,176.7 351.1,176.6 351.6,176.5 352.1,176.5 352.6,176.4 353.1,176.3 353.6,176.2 354.1,176.1 354.6,176.0 355.1,175.9 355.6,175.8 356.1,175.7 356.6,175.6 357.1,175.4 357.6,175.0 358.1,174.6 358.6,174.2 359.1,173.8 359.6,173.4 360.1,173.0 360.6,172.6 361.1,172.2 361.6,171.8 362.1,171.5 362.6,171.6 363.1,171.6 363.6,171.7 364.1,171.7 364.6,171.8 365.1,171.7 365.6,171.3 366.1,171.0 366.6,170.6 367.1,170.2 367.6,169.8 368.1,169.4 368.6,169.1 369.1,168.7 369.6,168.3 370.1,167.9 370.6,167.7 371.1,167.4 371.6,167.1 372.1,166.8 372.6,166.5 373.1,166.3 373.6,166.0 374.1,165.7 374.6,165.4 375.1,165.1 375.6,164.9 376.1,164.6 376.6,164.3 377.1,164.0" fill="none" stroke="#f2804a" stroke-width="0.85" stroke-opacity="1.0" stroke-linejoin="round"/>
<polyline points="279.0,211.3 279.1,211.4 279.3,211.5 279.4,211.6 279.6,211.7 279.7,211.8 279.9,211.9 280.0,212.2 280.2,212.4 280.3,212.7 280.5,212.9 280.6,213.1 280.8,213.4 280.9,213.7 281.1,214.0 281.2,214.2 281.4,214.5 281.5,214.7 281.7,215.0 281.8,216.6 282.0,218.1 282.1,219.6 282.3,221.2 282.4,222.8 282.6,224.3 282.7,225.9 282.9,227.5 283.0,229.0 283.2,230.4 283.3,232.0 283.5,233.7 283.6,235.1 283.8,236.5 283.9,237.9 284.1,239.6 284.2,240.6 284.4,242.5 284.5,243.9 284.7,245.2 284.8,246.7 285.0,248.7 285.1,250.7 285.3,252.2 285.4,252.9 285.6,256.7 285.7,258.1 285.9,259.6 286.0,262.9 286.2,269.0 286.3,275.4 286.5,269.9 286.6,278.4 286.8,283.8 286.9,273.5 287.1,254.0 287.2,259.6 287.4,262.1 287.5,269.1 287.7,273.1 287.8,274.4 288.0,293.5 288.1,281.1 288.3,283.2 288.4,277.7 288.6,268.0 288.7,271.8 288.9,279.0 289.0,271.3 289.2,283.6 289.3,271.7 289.5,262.6 289.6,261.9 289.8,279.9 289.9,266.4 290.1,271.7 290.2,255.7 290.4,270.2 290.5,268.2 290.7,258.3 290.8,279.3 291.0,265.2 291.1,256.1 291.3,266.5 291.4,263.8 291.6,270.5 291.7,276.0 291.9,270.8 292.0,267.1 292.2,286.5 292.3,263.0 292.5,284.5 292.6,264.1 292.8,265.2 292.9,277.1 293.1,265.4 293.2,280.8 293.4,277.8 293.5,257.3 293.7,276.6 293.8,269.2 294.0,270.0 294.1,261.7 294.3,286.3 294.4,283.0 294.6,272.3 294.7,265.7 294.9,277.8 295.0,286.1 295.2,258.1 295.3,271.6 295.5,278.5 295.6,266.5 295.8,271.0 295.9,288.5 296.1,277.1 296.2,259.0 296.4,271.6 296.5,274.2 296.7,272.1 296.8,273.2 297.0,266.8 297.1,277.1 297.3,275.4 297.4,277.3 297.6,278.5 297.7,264.0 297.9,280.8 298.0,270.4 298.2,277.8 298.3,276.9 298.5,272.8 298.6,289.6 298.8,279.6 298.9,279.1 299.1,273.7 299.2,281.9 299.4,267.3 299.5,280.2 299.7,275.1 299.8,288.5 300.0,274.2 300.1,302.4 300.3,269.8 300.4,274.2 300.6,276.7 300.7,285.2 300.9,284.6 301.0,282.7 301.2,281.0 301.3,267.5 301.5,263.5 301.6,281.1 301.8,290.4 301.9,281.0 302.1,285.9 302.2,281.8 302.4,270.4 302.5,268.1 302.7,288.7 302.8,285.7 303.0,276.3 303.1,283.6 303.3,285.9 303.4,285.6 303.6,293.0 303.7,283.0 303.9,283.5 304.0,287.4 304.2,267.3 304.3,284.4 304.5,279.5 304.6,280.8 304.8,284.3 304.9,276.9 305.1,283.0 305.2,277.8 305.4,281.7 305.5,295.5 305.7,268.1 305.8,295.8 306.0,281.9 306.1,284.1 306.3,296.1 306.4,267.7 306.6,292.8 306.7,288.4 306.9,281.3 307.0,281.8 307.2,314.1 307.3,271.3 307.5,274.1 307.6,280.8 307.8,287.1 307.9,276.5 308.1,279.4 308.2,292.5 308.4,322.2 308.5,289.3 308.7,289.5 308.8,286.3 309.0,290.9 309.1,288.9 309.3,277.3 309.4,291.5 309.6,290.6 309.7,284.4 309.9,313.5 310.0,291.7 310.2,297.8 310.3,299.6 310.5,272.1 310.6,283.7 310.8,275.7 310.9,291.3 311.1,273.4 311.2,298.4 311.4,286.5 311.5,287.9 311.7,284.8 311.8,279.6 312.0,296.7 312.1,293.1 312.3,296.5 312.4,282.6 312.6,280.3 312.7,289.1 312.9,299.7 313.0,284.3 313.2,283.8 313.3,294.1 313.5,272.1 313.6,311.7 313.8,284.7 313.9,287.6 314.1,294.7 314.2,280.5 314.4,295.3 314.5,287.4 314.7,275.6 314.8,283.2 315.0,289.9 315.1,280.4 315.3,289.5 315.4,283.1 315.6,279.2 315.7,275.6 315.9,292.9 316.0,287.7 316.2,286.2 316.3,279.9 316.5,282.3 316.6,281.0 316.8,286.8 316.9,283.9 317.1,283.1 317.2,282.5 317.4,270.6 317.5,279.9 317.7,288.2 317.8,273.5 318.0,271.8 318.1,288.1 318.3,272.4 318.4,271.5 318.6,285.1 318.7,288.1 318.9,279.5 319.0,280.8 319.2,274.4 319.3,275.6 319.5,291.0 319.6,286.0 319.8,279.9 319.9,273.1 320.1,292.6 320.2,267.3 320.4,279.1 320.5,276.4 320.7,283.1 320.8,282.7 321.0,291.0 321.1,276.4 321.3,279.6 321.4,288.2 321.6,281.9 321.7,285.6 321.9,271.1 322.0,281.5 322.2,277.0 322.3,279.7 322.5,273.7 322.6,280.1 322.8,276.0 322.9,288.8 323.1,268.4 323.2,289.3 323.4,268.4 323.5,277.5 323.7,262.7 323.8,283.6 324.0,284.0 324.1,269.7 324.3,259.6 324.4,275.7 324.6,268.8 324.7,304.9 324.9,258.9 325.0,279.9 325.2,273.4 325.3,265.1 325.5,260.9 325.6,277.2 325.8,276.4 325.9,270.3 326.1,257.6 326.2,270.7 326.4,257.2 326.5,280.3 326.7,259.5 326.8,287.2 327.0,276.5 327.1,284.8 327.3,276.9 327.4,279.8 327.6,274.7 327.7,267.0 327.9,278.6 328.0,278.0 328.2,262.0 328.3,272.1 328.5,261.8 328.6,294.9 328.8,285.6 328.9,283.0 329.1,261.7 329.2,290.5 329.4,263.8 329.5,272.5 329.7,268.9 329.8,269.3 330.0,267.7 330.1,276.1 330.3,254.5 330.4,258.7 330.6,277.2 330.7,276.9 330.9,256.9 331.0,268.8 331.2,251.8 331.3,264.2 331.5,269.8 331.6,270.4 331.8,279.8 331.9,251.4 332.1,264.8 332.2,255.8 332.4,257.0 332.5,255.7 332.7,257.0 332.8,260.9 333.0,266.2 333.1,271.2 333.3,255.3 333.4,264.1 333.6,269.3 333.7,256.1 333.9,269.9 334.0,266.9 334.2,272.2 334.3,261.1 334.5,258.1 334.6,253.4 334.8,251.7 334.9,267.6 335.1,271.8 335.2,253.3 335.4,256.2 335.5,259.7 335.7,249.2 335.8,276.8 336.0,252.0 336.1,266.3 336.3,244.7 336.4,268.9 336.6,252.4 336.7,252.0 336.9,249.6 337.0,248.7 337.2,266.8 337.3,262.0 337.5,267.6 337.6,253.2 337.8,253.8 337.9,240.0 338.1,236.6 338.2,232.3 338.4,228.0 338.5,223.3 338.7,218.6 338.8,214.5 339.0,210.0" fill="none" stroke="#1e9e3e" stroke-width="0.45" stroke-opacity="1.0" stroke-linejoin="round"/>
<polygon points="283.0,263.2 283.5,264.1 284.0,264.0 284.5,261.2 285.0,260.9 285.5,262.5 286.0,263.0 286.5,259.2 287.0,257.7 287.5,260.2 288.0,259.1 288.5,259.8 289.0,257.4 289.5,257.5 290.0,256.9 290.5,256.4 291.0,257.4 291.5,259.3 292.0,258.3 292.5,261.9 293.0,258.1 293.5,258.5 294.0,259.0 294.5,260.5 295.0,260.4 295.5,259.9 296.0,263.4 296.5,259.7 297.0,263.5 297.5,262.4 298.0,263.1 298.5,264.6 299.0,265.4 299.5,262.2 300.0,263.3 300.5,264.1 301.0,265.3 301.5,264.4 302.0,266.5 302.5,265.8 303.0,264.7 303.5,270.5 304.0,266.7 304.5,270.8 305.0,269.2 305.5,270.2 306.0,270.2 306.5,269.2 307.0,268.7 307.5,268.5 308.0,271.6 308.5,272.5 309.0,273.9 309.5,275.5 310.0,272.9 310.5,273.6 311.0,274.4 311.5,274.9 312.0,273.3 312.5,272.0 313.0,275.9 313.5,271.9 314.0,269.6 314.5,270.8 315.0,270.4 315.5,269.8 316.0,270.5 316.5,269.6 317.0,271.2 317.5,267.8 318.0,270.5 318.5,266.0 319.0,269.8 319.5,268.5 320.0,264.9 320.5,265.2 321.0,266.7 321.5,266.0 322.0,263.3 322.5,266.6 323.0,262.8 323.5,264.9 324.0,260.4 324.5,259.5 325.0,259.3 325.5,259.2 326.0,261.6 326.5,258.6 327.0,258.0 327.5,254.7 328.0,260.1 328.5,259.3 329.0,252.6 329.5,257.6 330.0,254.9 330.5,257.5 331.0,254.4 331.5,255.3 332.0,251.3 332.5,252.8 333.0,254.5 333.5,251.9 334.0,251.4 334.5,251.8 335.0,248.8 335.5,246.7 336.0,249.0 336.5,246.2 337.0,249.8 337.5,247.0 338.0,251.5 338.5,254.9 339.0,255.3 339.0,256.0 338.5,255.7 338.0,259.2 337.5,263.2 337.0,266.6 336.5,265.8 336.0,274.1 335.5,275.4 335.0,272.1 334.5,273.3 334.0,274.9 333.5,273.4 333.0,277.4 332.5,277.8 332.0,278.6 331.5,280.9 331.0,277.6 330.5,281.5 330.0,279.1 329.5,281.8 329.0,281.8 328.5,281.9 328.0,279.4 327.5,281.7 327.0,280.2 326.5,285.2 326.0,284.4 325.5,285.3 325.0,285.0 324.5,286.9 324.0,287.0 323.5,286.5 323.0,289.4 322.5,288.9 322.0,287.8 321.5,286.7 321.0,288.1 320.5,292.3 320.0,287.6 319.5,291.2 319.0,289.7 318.5,289.6 318.0,294.0 317.5,294.3 317.0,294.4 316.5,294.1 316.0,293.9 315.5,297.2 315.0,297.5 314.5,296.0 314.0,297.6 313.5,299.4 313.0,297.7 312.5,295.5 312.0,295.9 311.5,298.1 311.0,300.6 310.5,299.8 310.0,299.5 309.5,296.8 309.0,295.0 308.5,298.1 308.0,297.8 307.5,295.3 307.0,291.9 306.5,295.0 306.0,292.7 305.5,291.5 305.0,295.2 304.5,292.8 304.0,291.1 303.5,289.2 303.0,290.4 302.5,291.5 302.0,288.9 301.5,289.4 301.0,288.1 300.5,289.3 300.0,288.6 299.5,290.5 299.0,287.8 298.5,289.5 298.0,286.2 297.5,289.1 297.0,283.7 296.5,285.9 296.0,285.8 295.5,283.0 295.0,282.2 294.5,285.6 294.0,282.0 293.5,283.0 293.0,280.6 292.5,280.3 292.0,281.8 291.5,280.3 291.0,282.0 290.5,281.3 290.0,284.7 289.5,284.4 289.0,278.8 288.5,282.0 288.0,279.5 287.5,278.2 287.0,274.1 286.5,277.3 286.0,274.6 285.5,273.4 285.0,269.9 284.5,270.8 284.0,269.7 283.5,270.6 283.0,269.3" fill="#1e9e3e"/>
<path d="M283.0,267.1V300.0M284.5,268.2V272.1M285.2,269.3V296.0M285.6,269.9V292.1M286.0,270.4V277.3M286.6,271.3V276.1M287.0,271.8V300.0M287.6,272.8V281.1M288.0,273.2V285.6M288.3,273.7V279.6M288.8,274.5V287.6M289.2,274.8V300.0M289.8,275.2V300.0M290.2,275.3V300.0M290.8,275.7V295.0M291.5,276.0V300.0M292.1,276.3V296.9M292.9,276.7V300.0M293.7,277.2V298.6M294.2,277.5V300.0M294.6,277.6V297.6M295.0,277.8V300.0M295.8,278.4V300.0M296.0,278.6V292.4M296.3,278.8V293.7M296.7,279.2V288.4M297.5,279.9V291.2M298.0,280.3V298.8M298.3,280.5V300.0M299.6,281.6V300.0M300.2,282.1V290.2M300.6,282.5V300.0M300.9,282.7V290.2M301.4,283.2V296.2M301.7,283.4V300.0M302.4,284.1V291.8M302.7,284.2V293.3M303.0,284.5V294.0M303.7,285.1V300.0M304.3,285.7V300.0M304.6,285.9V300.0M305.1,286.3V300.0M305.6,286.8V300.0M306.2,287.3V300.0M307.0,287.9V300.0M307.7,288.5V299.1M308.4,289.1V296.1M309.1,289.7V300.0M309.8,290.3V300.0M310.2,290.6V300.0M310.7,291.1V300.0M311.0,291.3V300.0M311.4,291.6V300.0M311.8,292.0V300.0M312.1,291.7V300.0M312.6,291.2V298.4M313.0,290.9V300.0M313.2,290.6V300.0M313.9,289.9V300.0M314.3,289.5V300.0M314.8,289.0V298.6M315.4,288.4V300.0M315.7,288.1V296.0M316.4,287.4V294.4M316.8,287.0V298.1M317.5,286.3V300.0M318.1,285.8V300.0M318.6,285.3V300.0M318.8,285.0V300.0M319.4,284.5V292.3M320.1,283.8V296.0M320.9,283.0V291.7M321.6,282.3V296.0M321.9,282.0V300.0M322.5,281.4V295.8M323.2,280.6V299.5M323.9,279.9V297.2M324.2,279.5V300.0M325.1,278.4V288.3M325.5,278.0V290.0M326.9,276.4V288.7M327.6,275.7V293.3M328.1,275.1V286.8M328.4,274.8V294.8M328.9,274.2V286.4M329.2,273.8V283.6M329.6,273.4V300.0M329.9,273.1V291.2M330.4,272.6V298.6M331.7,271.1V279.4M332.2,270.5V283.0M332.4,270.2V296.1M332.8,269.8V300.0M333.3,269.2V280.9M334.1,268.3V287.7M334.4,267.8V274.9M334.7,267.3V276.0M335.0,266.7V300.0M335.3,266.2V286.5M335.6,265.8V273.7M335.9,265.1V300.0M336.4,263.5V276.4M336.8,262.2V273.9M337.4,260.0V268.2M337.6,259.2V268.6M338.0,257.9V300.0M338.5,256.5V290.1" stroke="#1e9e3e" stroke-width="0.6" stroke-opacity="0.7" fill="none"/>
<polyline points="241.5,190.2 242.0,190.2 242.5,190.3 243.0,190.3 243.5,190.3 244.0,190.4 244.5,190.4 245.0,190.4 245.5,190.5 246.0,190.5 246.5,190.6 247.0,190.7 247.5,190.8 248.0,190.9 248.5,191.0 249.0,191.1 249.5,191.2 250.0,191.3 250.5,191.4 251.0,191.5 251.5,191.6 252.0,191.7 252.5,191.8 253.0,191.9 253.5,192.0 254.0,192.1 254.5,192.1 255.0,192.2 255.5,192.3 256.0,192.0 256.5,191.7 257.0,191.4 257.5,191.1 258.0,190.8 258.5,190.5 259.0,192.1 259.5,193.7 260.0,196.6 260.5,199.8 261.0,202.1 261.5,203.0 262.0,203.8 262.5,204.6 263.0,205.0 263.5,205.2 264.0,205.5 264.5,205.7 265.0,205.9 265.5,206.2 266.0,206.4 266.5,206.6 267.0,206.8 267.5,207.0 268.0,207.2 268.5,207.3 269.0,207.5 269.5,207.7 270.0,207.9 270.5,208.1 271.0,208.2 271.5,208.4 272.0,208.6 272.5,208.8 273.0,209.0 273.5,209.1 274.0,209.3 274.5,209.5 275.0,209.6 275.5,209.8 276.0,209.9 276.5,210.0 277.0,210.2 277.5,210.5 278.0,210.8 278.5,211.1 279.0,211.4 279.5,211.7 280.0,212.1 280.5,212.9 281.0,213.8 281.5,214.7 282.0,218.1 282.5,223.3 283.0,228.5 283.5,233.7 284.0,238.7 284.5,243.6 285.0,248.9" fill="none" stroke="#2ca24c" stroke-width="0.85" stroke-opacity="1.0" stroke-linejoin="round"/>
<polyline points="338.0,240.0 338.5,225.0 339.0,210.0 339.5,207.2 340.0,204.5 340.5,201.8 341.0,199.0 341.5,198.8 342.0,198.5 342.5,198.2 343.0,198.0 343.5,197.8 344.0,197.5 344.5,196.2 345.0,195.0 345.5,193.8 346.0,192.5 346.5,191.2 347.0,190.0 347.5,189.2 348.0,188.5 348.5,187.8 349.0,187.0 349.5,186.2 350.0,185.5 350.5,185.4 351.0,185.2 351.5,185.0 352.0,184.9 352.5,184.8 353.0,184.6 353.5,184.4 354.0,184.3 354.5,184.1 355.0,184.0 355.5,184.2 356.0,184.5 356.5,184.8 357.0,185.0 357.5,184.7 358.0,184.4 358.5,184.1 359.0,183.8 359.5,183.5 360.0,183.2 360.5,182.9 361.0,182.6 361.5,182.3 362.0,182.0 362.5,181.8 363.0,181.5 363.5,181.2 364.0,181.0 364.5,180.8 365.0,180.5 365.5,180.2 366.0,180.0 366.5,179.8 367.0,179.5 367.5,179.2 368.0,179.0 368.5,178.8 369.0,178.5 369.5,178.2 370.0,178.0 370.5,177.8 371.0,177.6 371.5,177.4 372.0,177.2 372.5,177.0 373.0,176.8 373.5,176.6 374.0,176.4 374.5,176.2 375.0,176.0 375.5,175.8 376.0,175.6 376.5,175.4 377.0,175.2 377.5,175.0" fill="none" stroke="#2ca24c" stroke-width="0.85" stroke-opacity="1.0" stroke-linejoin="round"/>
</g>
<polyline points="241.5,79.7 312.7,126.2 377.5,60.5" fill="none" stroke="#f6e40c" stroke-width="1.25" stroke-dasharray="2.6,1.8" clip-path="url(#clipTop)"/>
<polyline points="241.5,228.5 312.3,281 377.5,200" fill="none" stroke="#f6e40c" stroke-width="1.25" stroke-dasharray="2.6,1.8" clip-path="url(#clipBot)"/>
<line x1="255.4" y1="18.3" x2="255.4" y2="33.3" stroke="#f07a7a" stroke-width="0.9"/>
<line x1="263.1" y1="18.3" x2="263.1" y2="33.3" stroke="#9a9ad0" stroke-width="0.9"/>
<line x1="278.4" y1="61" x2="278.4" y2="76.5" stroke="#f07a7a" stroke-width="0.9"/>
<line x1="285.5" y1="61" x2="285.5" y2="76.5" stroke="#9a9ad0" stroke-width="0.9"/>
<line x1="337.4" y1="26" x2="337.4" y2="72" stroke="#f07a7a" stroke-width="0.9"/>
<line x1="344.8" y1="26" x2="344.8" y2="80" stroke="#9a9ad0" stroke-width="0.9"/>
<line x1="253.3" y1="167" x2="253.3" y2="182.7" stroke="#f5a07a" stroke-width="0.9"/>
<line x1="258.5" y1="167" x2="258.5" y2="182.7" stroke="#6ab87a" stroke-width="0.9"/>
<line x1="273.9" y1="185.7" x2="273.9" y2="202.4" stroke="#f5a07a" stroke-width="0.9"/>
<line x1="279.3" y1="185.7" x2="279.3" y2="202.4" stroke="#6ab87a" stroke-width="0.9"/>
<line x1="333.6" y1="186" x2="333.6" y2="250" stroke="#f5a07a" stroke-width="0.9"/>
<line x1="337.6" y1="186" x2="337.6" y2="250" stroke="#6ab87a" stroke-width="0.9"/>
<rect x="241.5" y="5.5" width="136.0" height="142.5" fill="none" stroke="#9a9a9a" stroke-width="1"/>
<line x1="253.59999999999997" y1="148.0" x2="253.59999999999997" y2="146.5" stroke="#9a9a9a" stroke-width="0.8"/>
<line x1="253.59999999999997" y1="5.5" x2="253.59999999999997" y2="7.0" stroke="#9a9a9a" stroke-width="0.8"/>
<line x1="283.0" y1="148.0" x2="283.0" y2="146.5" stroke="#9a9a9a" stroke-width="0.8"/>
<line x1="283.0" y1="5.5" x2="283.0" y2="7.0" stroke="#9a9a9a" stroke-width="0.8"/>
<line x1="312.4" y1="148.0" x2="312.4" y2="146.5" stroke="#9a9a9a" stroke-width="0.8"/>
<line x1="312.4" y1="5.5" x2="312.4" y2="7.0" stroke="#9a9a9a" stroke-width="0.8"/>
<line x1="341.79999999999995" y1="148.0" x2="341.79999999999995" y2="146.5" stroke="#9a9a9a" stroke-width="0.8"/>
<line x1="341.79999999999995" y1="5.5" x2="341.79999999999995" y2="7.0" stroke="#9a9a9a" stroke-width="0.8"/>
<line x1="371.2" y1="148.0" x2="371.2" y2="146.5" stroke="#9a9a9a" stroke-width="0.8"/>
<line x1="371.2" y1="5.5" x2="371.2" y2="7.0" stroke="#9a9a9a" stroke-width="0.8"/>
<rect x="241.5" y="154.6" width="136.0" height="143.79999999999998" fill="none" stroke="#9a9a9a" stroke-width="1"/>
<line x1="253.59999999999997" y1="298.4" x2="253.59999999999997" y2="296.9" stroke="#9a9a9a" stroke-width="0.8"/>
<line x1="253.59999999999997" y1="155.2" x2="253.59999999999997" y2="156.7" stroke="#9a9a9a" stroke-width="0.8"/>
<line x1="283.0" y1="298.4" x2="283.0" y2="296.9" stroke="#9a9a9a" stroke-width="0.8"/>
<line x1="283.0" y1="155.2" x2="283.0" y2="156.7" stroke="#9a9a9a" stroke-width="0.8"/>
<line x1="312.4" y1="298.4" x2="312.4" y2="296.9" stroke="#9a9a9a" stroke-width="0.8"/>
<line x1="312.4" y1="155.2" x2="312.4" y2="156.7" stroke="#9a9a9a" stroke-width="0.8"/>
<line x1="341.79999999999995" y1="298.4" x2="341.79999999999995" y2="296.9" stroke="#9a9a9a" stroke-width="0.8"/>
<line x1="341.79999999999995" y1="155.2" x2="341.79999999999995" y2="156.7" stroke="#9a9a9a" stroke-width="0.8"/>
<line x1="371.2" y1="298.4" x2="371.2" y2="296.9" stroke="#9a9a9a" stroke-width="0.8"/>
<line x1="371.2" y1="155.2" x2="371.2" y2="156.7" stroke="#9a9a9a" stroke-width="0.8"/>
<line x1="253.59999999999997" y1="298.4" x2="253.59999999999997" y2="301.4" stroke="#9a9a9a" stroke-width="0.8"/>
<line x1="283.0" y1="298.4" x2="283.0" y2="301.4" stroke="#9a9a9a" stroke-width="0.8"/>
<line x1="312.4" y1="298.4" x2="312.4" y2="301.4" stroke="#9a9a9a" stroke-width="0.8"/>
<line x1="341.79999999999995" y1="298.4" x2="341.79999999999995" y2="301.4" stroke="#9a9a9a" stroke-width="0.8"/>
<line x1="371.2" y1="298.4" x2="371.2" y2="301.4" stroke="#9a9a9a" stroke-width="0.8"/>
<text x="232.3" y="13.0" font-size="10.5" font-weight="normal" fill="#222" text-anchor="end" font-family='"Liberation Sans", sans-serif' textLength="5" lengthAdjust="spacingAndGlyphs" >1</text>
<text x="233.3" y="44.7" font-size="10.5" font-weight="normal" fill="#222" text-anchor="end" font-family='"Liberation Sans", sans-serif' textLength="12" lengthAdjust="spacingAndGlyphs" >10</text>
<text x="233.5" y="39.9" font-size="7.2" font-weight="normal" fill="#222" text-anchor="start" font-family='"Liberation Sans", sans-serif' textLength="6.5" lengthAdjust="spacingAndGlyphs" >-2</text>
<line x1="241.5" y1="41.1" x2="240.0" y2="41.1" stroke="#9a9a9a" stroke-width="0.8"/>
<text x="233.3" y="80.3" font-size="10.5" font-weight="normal" fill="#222" text-anchor="end" font-family='"Liberation Sans", sans-serif' textLength="12" lengthAdjust="spacingAndGlyphs" >10</text>
<text x="233.5" y="75.5" font-size="7.2" font-weight="normal" fill="#222" text-anchor="start" font-family='"Liberation Sans", sans-serif' textLength="6.5" lengthAdjust="spacingAndGlyphs" >-4</text>
<line x1="241.5" y1="76.7" x2="240.0" y2="76.7" stroke="#9a9a9a" stroke-width="0.8"/>
<text x="233.3" y="115.9" font-size="10.5" font-weight="normal" fill="#222" text-anchor="end" font-family='"Liberation Sans", sans-serif' textLength="12" lengthAdjust="spacingAndGlyphs" >10</text>
<text x="233.5" y="111.10000000000001" font-size="7.2" font-weight="normal" fill="#222" text-anchor="start" font-family='"Liberation Sans", sans-serif' textLength="6.5" lengthAdjust="spacingAndGlyphs" >-6</text>
<line x1="241.5" y1="112.30000000000001" x2="240.0" y2="112.30000000000001" stroke="#9a9a9a" stroke-width="0.8"/>
<text x="233.3" y="151.5" font-size="10.5" font-weight="normal" fill="#222" text-anchor="end" font-family='"Liberation Sans", sans-serif' textLength="12" lengthAdjust="spacingAndGlyphs" >10</text>
<text x="233.5" y="146.70000000000002" font-size="7.2" font-weight="normal" fill="#222" text-anchor="start" font-family='"Liberation Sans", sans-serif' textLength="6.5" lengthAdjust="spacingAndGlyphs" >-8</text>
<line x1="241.5" y1="147.9" x2="240.0" y2="147.9" stroke="#9a9a9a" stroke-width="0.8"/>
<text x="232.3" y="162.7" font-size="10.5" font-weight="normal" fill="#222" text-anchor="end" font-family='"Liberation Sans", sans-serif' textLength="5" lengthAdjust="spacingAndGlyphs" >1</text>
<text x="233.3" y="194.6" font-size="10.5" font-weight="normal" fill="#222" text-anchor="end" font-family='"Liberation Sans", sans-serif' textLength="12" lengthAdjust="spacingAndGlyphs" >10</text>
<text x="233.5" y="189.8" font-size="7.2" font-weight="normal" fill="#222" text-anchor="start" font-family='"Liberation Sans", sans-serif' textLength="6.5" lengthAdjust="spacingAndGlyphs" >-2</text>
<line x1="241.5" y1="191.0" x2="240.0" y2="191.0" stroke="#9a9a9a" stroke-width="0.8"/>
<text x="233.3" y="230.39999999999998" font-size="10.5" font-weight="normal" fill="#222" text-anchor="end" font-family='"Liberation Sans", sans-serif' textLength="12" lengthAdjust="spacingAndGlyphs" >10</text>
<text x="233.5" y="225.6" font-size="7.2" font-weight="normal" fill="#222" text-anchor="start" font-family='"Liberation Sans", sans-serif' textLength="6.5" lengthAdjust="spacingAndGlyphs" >-4</text>
<line x1="241.5" y1="226.79999999999998" x2="240.0" y2="226.79999999999998" stroke="#9a9a9a" stroke-width="0.8"/>
<text x="233.3" y="266.2" font-size="10.5" font-weight="normal" fill="#222" text-anchor="end" font-family='"Liberation Sans", sans-serif' textLength="12" lengthAdjust="spacingAndGlyphs" >10</text>
<text x="233.5" y="261.4" font-size="7.2" font-weight="normal" fill="#222" text-anchor="start" font-family='"Liberation Sans", sans-serif' textLength="6.5" lengthAdjust="spacingAndGlyphs" >-6</text>
<line x1="241.5" y1="262.59999999999997" x2="240.0" y2="262.59999999999997" stroke="#9a9a9a" stroke-width="0.8"/>
<text x="233.3" y="302.0" font-size="10.5" font-weight="normal" fill="#222" text-anchor="end" font-family='"Liberation Sans", sans-serif' textLength="12" lengthAdjust="spacingAndGlyphs" >10</text>
<text x="233.5" y="297.2" font-size="7.2" font-weight="normal" fill="#222" text-anchor="start" font-family='"Liberation Sans", sans-serif' textLength="6.5" lengthAdjust="spacingAndGlyphs" >-8</text>
<line x1="241.5" y1="298.4" x2="240.0" y2="298.4" stroke="#9a9a9a" stroke-width="0.8"/>
<text x="251.09999999999997" y="313.3" font-size="10.5" font-weight="normal" fill="#222" text-anchor="middle" font-family='"Liberation Sans", sans-serif' textLength="10" lengthAdjust="spacingAndGlyphs" >-2</text>
<text x="280.5" y="313.3" font-size="10.5" font-weight="normal" fill="#222" text-anchor="middle" font-family='"Liberation Sans", sans-serif' textLength="10" lengthAdjust="spacingAndGlyphs" >-1</text>
<text x="312.4" y="313.3" font-size="10.5" font-weight="normal" fill="#222" text-anchor="middle" font-family='"Liberation Sans", sans-serif' textLength="5.5" lengthAdjust="spacingAndGlyphs" >0</text>
<text x="341.79999999999995" y="313.3" font-size="10.5" font-weight="normal" fill="#222" text-anchor="middle" font-family='"Liberation Sans", sans-serif' textLength="5.5" lengthAdjust="spacingAndGlyphs" >1</text>
<text x="371.2" y="313.3" font-size="10.5" font-weight="normal" fill="#222" text-anchor="middle" font-family='"Liberation Sans", sans-serif' textLength="5.5" lengthAdjust="spacingAndGlyphs" >2</text>
<text x="312.3" y="327.5" font-size="10.5" font-weight="normal" fill="#222" text-anchor="middle" font-family='"Liberation Sans", sans-serif' textLength="76.5" lengthAdjust="spacingAndGlyphs" >Sample bias (V)</text>
<text x="0" y="0" transform="translate(216,151.5) rotate(-90)" font-size="10.5" fill="#222" text-anchor="middle" font-family='"Liberation Sans", sans-serif' textLength="64" lengthAdjust="spacingAndGlyphs">dI/dV (nA/V)</text>
<text x="285.4" y="17.7" font-size="10" font-weight="normal" fill="#222" text-anchor="start" font-family='"Liberation Sans", sans-serif' textLength="41" lengthAdjust="spacingAndGlyphs" >SL-WSe<tspan font-size="7.5" dy="2.8">2</tspan></text>
<text x="330.4" y="23" font-size="10.3" font-weight="normal" fill="#222" text-anchor="start" font-family='"Liberation Sans", sans-serif' textLength="22.8" lengthAdjust="spacingAndGlyphs" >CBM</text>
<text x="286.1" y="167.7" font-size="10" font-weight="normal" fill="#222" text-anchor="start" font-family='"Liberation Sans", sans-serif' textLength="42.3" lengthAdjust="spacingAndGlyphs" >DL-WSe<tspan font-size="7.5" dy="2.8">2</tspan></text>
<text x="318.1" y="184.5" font-size="10.3" font-weight="normal" fill="#222" text-anchor="start" font-family='"Liberation Sans", sans-serif' textLength="23.3" lengthAdjust="spacingAndGlyphs" >CBM</text>
<text x="265.6" y="31.3" font-size="11.5" font-weight="normal" fill="#222" text-anchor="start" font-family='"Liberation Serif", serif' textLength="6.5" lengthAdjust="spacingAndGlyphs" >Γ</text>
<text x="272" y="33.3" font-size="8" font-weight="normal" fill="#222" text-anchor="start" font-family='"Liberation Sans", sans-serif' textLength="6.3" lengthAdjust="spacingAndGlyphs" >V</text>
<text x="278.3" y="56.9" font-size="11" font-weight="normal" fill="#222" text-anchor="start" font-family='"Liberation Sans", sans-serif' textLength="7" lengthAdjust="spacingAndGlyphs" >K</text>
<text x="285.2" y="60" font-size="8" font-weight="normal" fill="#222" text-anchor="start" font-family='"Liberation Sans", sans-serif' textLength="6" lengthAdjust="spacingAndGlyphs" >V</text>
<text x="254" y="166.6" font-size="11.5" font-weight="normal" fill="#222" text-anchor="start" font-family='"Liberation Serif", serif' textLength="7.4" lengthAdjust="spacingAndGlyphs" >Γ</text>
<text x="261.4" y="169.8" font-size="8" font-weight="normal" fill="#222" text-anchor="start" font-family='"Liberation Sans", sans-serif' textLength="9.2" lengthAdjust="spacingAndGlyphs" >V2</text>
<text x="275" y="184.9" font-size="11.5" font-weight="normal" fill="#222" text-anchor="start" font-family='"Liberation Serif", serif' textLength="7.5" lengthAdjust="spacingAndGlyphs" >Γ</text>
<text x="282.5" y="188" font-size="8" font-weight="normal" fill="#222" text-anchor="start" font-family='"Liberation Sans", sans-serif' textLength="9" lengthAdjust="spacingAndGlyphs" >V1</text>
<text x="416.3" y="18.3" font-size="16.9" font-weight="normal" fill="#1a1a1a" text-anchor="start" font-family='"Liberation Sans", sans-serif' textLength="16.6" lengthAdjust="spacingAndGlyphs" >(c)</text>
<g clip-path="url(#cstrip)">
<rect x="442" y="5" width="120.5" height="27" fill="#d0d1d1"/>
<polygon points="430,0 504,0 506,15 505,40 430,40" fill="#4c5252" filter="url(#blur2)"/>
<circle cx="547" cy="12" r="4" fill="#ffffff" opacity="0.5" filter="url(#blurS)"/>
</g>
<text x="444.3" y="18.8" font-size="11" font-weight="bold" fill="#e02a32" text-anchor="start" font-family='"Liberation Sans", sans-serif' textLength="5.8" lengthAdjust="spacingAndGlyphs" >1</text>
<text x="548.5" y="18" font-size="11" font-weight="bold" fill="#e02a32" text-anchor="start" font-family='"Liberation Sans", sans-serif' textLength="12.3" lengthAdjust="spacingAndGlyphs" >50</text>
<text x="481" y="17" font-size="10.5" font-weight="bold" fill="#fff" text-anchor="start" font-family='"Liberation Sans", sans-serif' textLength="41" lengthAdjust="spacingAndGlyphs" >SL-WSe<tspan font-size="7.5" dy="2.5">2</tspan></text>
<line x1="446" y1="23.1" x2="558" y2="23.1" stroke="#e8303a" stroke-width="1.0" stroke-dasharray="0.8,0.65"/>
<g clip-path="url(#cmap)">
<rect x="442.0" y="37.0" width="120.5" height="210.0" fill="#3c5cb4"/>
<rect x="442.0" y="37.0" width="120.5" height="210.0" filter="url(#streak)" opacity="0.6"/>
<rect x="442.0" y="37.0" width="120.5" height="210.0" filter="url(#streak2)" opacity="1"/>
<polygon points="430.0,20.0 430.0,93.5 494.8,92.8 503.0,90.5 511.4,86.9 520.0,84.0 530.5,82.0 545.0,80.5 575.0,79.5 575.0,20.0" fill="#5a78c4" filter="url(#b3)"/>
<polygon points="430.0,20.0 430.0,89.0 494.8,88.3 503.0,86.0 511.4,82.4 520.0,79.5 530.5,77.5 545.0,76.0 575.0,75.0 575.0,20.0" fill="#8ea2d6" filter="url(#b15)"/>
<polygon points="430.0,20.0 430.0,85.7 494.8,85.0 503.0,82.7 511.4,79.1 520.0,76.2 530.5,74.2 545.0,72.7 575.0,71.7 575.0,20.0" fill="#ffffff" filter="url(#b15)"/>
<polygon points="430.0,20.0 430.0,82.0 494.8,81.3 503.0,79.0 511.4,75.4 520.0,72.5 530.5,70.5 545.0,69.0 575.0,68.0 575.0,20.0" fill="#f4b4b6" filter="url(#b15)"/>
<polygon points="430.0,20.0 430.0,78.0 494.8,77.3 503.0,75.0 511.4,71.4 520.0,68.5 530.5,66.5 545.0,65.0 575.0,64.0 575.0,20.0" fill="#e5313a" filter="url(#b3)"/>
<polygon points="430.0,199.3 493.6,199.3 505.0,195.5 517.7,190.0 540.0,187.0 575.0,185.9 575.0,260.0 430.0,260.0" fill="#9aaedc" filter="url(#blur1)"/>
<polygon points="430.0,208.8 493.6,208.8 505.0,205.0 517.7,199.5 540.0,196.5 575.0,195.4 575.0,260.0 430.0,260.0" fill="#c9d4ee" filter="url(#b3)"/>
<polygon points="430.0,216.8 493.6,216.8 505.0,213.0 517.7,207.5 540.0,204.5 575.0,203.4 575.0,260.0 430.0,260.0" fill="#f4f5fa" filter="url(#b3)"/>
<rect x="442.0" y="195" width="120.5" height="35" filter="url(#vstreak)" opacity="0.35"/>
<polygon points="430.0,231.5 494.0,230.0 505.0,226.5 517.0,222.0 540.0,218.5 575.0,218.0 575.0,260.0 430.0,260.0" fill="#f2b4b6" filter="url(#b15)"/>
<polygon points="430.0,235.5 494.0,234.0 505.0,230.5 517.0,226.0 540.0,222.5 575.0,222.0 575.0,260.0 430.0,260.0" fill="#e64a4e" filter="url(#b15)"/>
<ellipse cx="540" cy="50" rx="22" ry="18" fill="#ffffff" opacity="0.12" filter="url(#blurS)"/>
<rect x="537.5" y="64" width="14" height="32" fill="#f2c0c4" filter="url(#bdef)"/>
<rect x="538.5" y="67" width="12.5" height="26" fill="#f09aa0" filter="url(#b15)"/>
<rect x="541.5" y="70" width="7" height="21" fill="#e84850" filter="url(#blur1)"/>
</g>
<ellipse cx="544.3" cy="80.2" rx="12.4" ry="12" fill="none" stroke="#ffffff" stroke-width="0.7" stroke-opacity="0.9"/>
<rect x="442" y="199.3" width="13.2" height="1.6" fill="#ffffff"/>
<text x="445.2" y="52.1" font-size="14.5" font-weight="bold" fill="#fff" text-anchor="start" font-family='"Liberation Sans", sans-serif' textLength="36.5" lengthAdjust="spacingAndGlyphs" >D(x,V)</text>
<text x="491.2" y="73.6" font-size="10.5" font-weight="bold" fill="#fff" text-anchor="start" font-family='"Liberation Sans", sans-serif' textLength="12.6" lengthAdjust="spacingAndGlyphs" >CB</text>
<text x="445.2" y="98.1" font-size="10.5" font-weight="bold" fill="#fff" text-anchor="start" font-family='"Liberation Sans", sans-serif' textLength="22.9" lengthAdjust="spacingAndGlyphs" >CBM</text>
<text x="526.2" y="104.5" font-size="10.5" font-weight="bold" fill="#fff" text-anchor="start" font-family='"Liberation Sans", sans-serif' textLength="32.1" lengthAdjust="spacingAndGlyphs" >Defect</text>
<text x="522.5" y="142.3" font-size="10.5" font-weight="bold" fill="#fff" text-anchor="start" font-family='"Liberation Sans", sans-serif' textLength="19.5" lengthAdjust="spacingAndGlyphs" >Gap</text>
<text x="496.2" y="239.8" font-size="10.5" font-weight="bold" fill="#fff" text-anchor="start" font-family='"Liberation Sans", sans-serif' textLength="14" lengthAdjust="spacingAndGlyphs" >VB</text>
<text x="444.5" y="195.5" font-size="10.5" font-weight="bold" fill="#fff" text-anchor="start" font-family='"Liberation Sans", sans-serif' textLength="7.3" lengthAdjust="spacingAndGlyphs" >K</text>
<text x="451.6" y="198" font-size="7.5" font-weight="bold" fill="#fff" text-anchor="start" font-family='"Liberation Sans", sans-serif' textLength="5" lengthAdjust="spacingAndGlyphs" >V</text>
<rect x="447.3" y="135" width="60.4" height="17.9" fill="url(#cbar)" stroke="#d8d8e8" stroke-width="0.8"/>
<line x1="453.2" y1="132" x2="453.2" y2="135" stroke="#e0e0e0" stroke-width="0.8"/>
<line x1="474.6" y1="132" x2="474.6" y2="135" stroke="#e0e0e0" stroke-width="0.8"/>
<line x1="496.4" y1="132" x2="496.4" y2="135" stroke="#e0e0e0" stroke-width="0.8"/>
<text x="447" y="129.3" font-size="10" font-weight="bold" fill="#fff" text-anchor="start" font-family='"Liberation Sans", sans-serif' textLength="11.6" lengthAdjust="spacingAndGlyphs" >10</text>
<text x="458.6" y="124.5" font-size="7" font-weight="bold" fill="#fff" text-anchor="start" font-family='"Liberation Sans", sans-serif' textLength="6.2" lengthAdjust="spacingAndGlyphs" >-6</text>
<text x="468.4" y="129.3" font-size="10" font-weight="bold" fill="#fff" text-anchor="start" font-family='"Liberation Sans", sans-serif' textLength="11.6" lengthAdjust="spacingAndGlyphs" >10</text>
<text x="480.0" y="124.5" font-size="7" font-weight="bold" fill="#fff" text-anchor="start" font-family='"Liberation Sans", sans-serif' textLength="6.2" lengthAdjust="spacingAndGlyphs" >-4</text>
<text x="490.2" y="129.3" font-size="10" font-weight="bold" fill="#fff" text-anchor="start" font-family='"Liberation Sans", sans-serif' textLength="11.6" lengthAdjust="spacingAndGlyphs" >10</text>
<text x="501.8" y="124.5" font-size="7" font-weight="bold" fill="#fff" text-anchor="start" font-family='"Liberation Sans", sans-serif' textLength="6.2" lengthAdjust="spacingAndGlyphs" >-2</text>
<text x="477.3" y="149.0" font-size="9.2" font-weight="normal" fill="#b8b8b8" text-anchor="middle" font-family='"Liberation Sans", sans-serif' textLength="57" lengthAdjust="spacingAndGlyphs" stroke="#505050" stroke-width="0.6" paint-order="stroke">dI/dV (nA/V)</text>
<line x1="439.0" y1="79.3" x2="442.0" y2="79.3" stroke="#909090" stroke-width="0.8"/>
<text x="438" y="83.0" font-size="10.5" font-weight="normal" fill="#222" text-anchor="end" font-family='"Liberation Sans", sans-serif' textLength="4.6" lengthAdjust="spacingAndGlyphs" >1</text>
<line x1="439.0" y1="136.3" x2="442.0" y2="136.3" stroke="#909090" stroke-width="0.8"/>
<text x="438" y="140.0" font-size="10.5" font-weight="normal" fill="#222" text-anchor="end" font-family='"Liberation Sans", sans-serif' textLength="5.4" lengthAdjust="spacingAndGlyphs" >0</text>
<line x1="439.0" y1="192.8" x2="442.0" y2="192.8" stroke="#909090" stroke-width="0.8"/>
<text x="438" y="196.5" font-size="10.5" font-weight="normal" fill="#222" text-anchor="end" font-family='"Liberation Sans", sans-serif' textLength="9.4" lengthAdjust="spacingAndGlyphs" >-1</text>
<line x1="439.0" y1="243.7" x2="442.0" y2="243.7" stroke="#909090" stroke-width="0.8"/>
<text x="438" y="247.39999999999998" font-size="10.5" font-weight="normal" fill="#222" text-anchor="end" font-family='"Liberation Sans", sans-serif' textLength="9.4" lengthAdjust="spacingAndGlyphs" >-2</text>
<line x1="456.5" y1="247.0" x2="456.5" y2="245.0" stroke="#555" stroke-width="0.8"/>
<line x1="504.3" y1="247.0" x2="504.3" y2="245.0" stroke="#555" stroke-width="0.8"/>
<line x1="552.5" y1="247.0" x2="552.5" y2="245.0" stroke="#555" stroke-width="0.8"/>
<text x="0" y="0" transform="translate(415.3,135.8) rotate(-90)" font-size="10.5" fill="#222" text-anchor="middle" font-family='"Liberation Sans", sans-serif' textLength="76" lengthAdjust="spacingAndGlyphs">Sample bias (V)</text>
<line x1="442.3" y1="275.4" x2="562.7" y2="275.4" stroke="#b8b8b8" stroke-width="0.7" stroke-dasharray="3,2"/>
<polyline points="443.6,292.6 446.4,293.1 449.1,292.6 451.9,291.9 454.6,291.2 457.4,292.4 460.1,292.7 462.9,291.9 465.6,291.9 468.4,292.3 471.1,292.4 473.9,292.4 476.6,291.5 479.4,290.9 482.1,290.5 484.9,289.7 487.6,290.1 490.4,290.8 493.1,288.3 495.9,288.1 498.6,287.7 501.4,286.5 504.1,284.4 506.9,282.9 509.6,280.0 512.4,278.2 515.1,274.6 517.9,272.3 520.6,270.9 523.4,269.9 526.1,268.6 528.9,267.9 531.6,267.4 534.4,265.8 537.1,265.1 539.9,265.5 542.6,266.3 545.4,264.4 548.1,262.9 550.9,264.6 553.6,261.8 556.4,262.8 559.1,263.4 561.9,262.5" fill="none" stroke="#f08888" stroke-width="0.6"/>
<circle cx="443.6" cy="292.6" r="1.35" fill="#fbe0e0" stroke="#ec5a5e" stroke-width="0.75"/>
<circle cx="446.4" cy="293.1" r="1.35" fill="#fbe0e0" stroke="#ec5a5e" stroke-width="0.75"/>
<circle cx="449.1" cy="292.6" r="1.35" fill="#fbe0e0" stroke="#ec5a5e" stroke-width="0.75"/>
<circle cx="451.9" cy="291.9" r="1.35" fill="#fbe0e0" stroke="#ec5a5e" stroke-width="0.75"/>
<circle cx="454.6" cy="291.2" r="1.35" fill="#fbe0e0" stroke="#ec5a5e" stroke-width="0.75"/>
<circle cx="457.4" cy="292.4" r="1.35" fill="#fbe0e0" stroke="#ec5a5e" stroke-width="0.75"/>
<circle cx="460.1" cy="292.7" r="1.35" fill="#fbe0e0" stroke="#ec5a5e" stroke-width="0.75"/>
<circle cx="462.9" cy="291.9" r="1.35" fill="#fbe0e0" stroke="#ec5a5e" stroke-width="0.75"/>
<circle cx="465.6" cy="291.9" r="1.35" fill="#fbe0e0" stroke="#ec5a5e" stroke-width="0.75"/>
<circle cx="468.4" cy="292.3" r="1.35" fill="#fbe0e0" stroke="#ec5a5e" stroke-width="0.75"/>
<circle cx="471.1" cy="292.4" r="1.35" fill="#fbe0e0" stroke="#ec5a5e" stroke-width="0.75"/>
<circle cx="473.9" cy="292.4" r="1.35" fill="#fbe0e0" stroke="#ec5a5e" stroke-width="0.75"/>
<circle cx="476.6" cy="291.5" r="1.35" fill="#fbe0e0" stroke="#ec5a5e" stroke-width="0.75"/>
<circle cx="479.4" cy="290.9" r="1.35" fill="#fbe0e0" stroke="#ec5a5e" stroke-width="0.75"/>
<circle cx="482.1" cy="290.5" r="1.35" fill="#fbe0e0" stroke="#ec5a5e" stroke-width="0.75"/>
<circle cx="484.9" cy="289.7" r="1.35" fill="#fbe0e0" stroke="#ec5a5e" stroke-width="0.75"/>
<circle cx="487.6" cy="290.1" r="1.35" fill="#fbe0e0" stroke="#ec5a5e" stroke-width="0.75"/>
<circle cx="490.4" cy="290.8" r="1.35" fill="#fbe0e0" stroke="#ec5a5e" stroke-width="0.75"/>
<circle cx="493.1" cy="288.3" r="1.35" fill="#fbe0e0" stroke="#ec5a5e" stroke-width="0.75"/>
<circle cx="495.9" cy="288.1" r="1.35" fill="#fbe0e0" stroke="#ec5a5e" stroke-width="0.75"/>
<circle cx="498.6" cy="287.7" r="1.35" fill="#fbe0e0" stroke="#ec5a5e" stroke-width="0.75"/>
<circle cx="501.4" cy="286.5" r="1.35" fill="#fbe0e0" stroke="#ec5a5e" stroke-width="0.75"/>
<circle cx="504.1" cy="284.4" r="1.35" fill="#fbe0e0" stroke="#ec5a5e" stroke-width="0.75"/>
<circle cx="506.9" cy="282.9" r="1.35" fill="#fbe0e0" stroke="#ec5a5e" stroke-width="0.75"/>
<circle cx="509.6" cy="280.0" r="1.35" fill="#fbe0e0" stroke="#ec5a5e" stroke-width="0.75"/>
<circle cx="512.4" cy="278.2" r="1.35" fill="#fbe0e0" stroke="#ec5a5e" stroke-width="0.75"/>
<circle cx="515.1" cy="274.6" r="1.35" fill="#fbe0e0" stroke="#ec5a5e" stroke-width="0.75"/>
<circle cx="517.9" cy="272.3" r="1.35" fill="#fbe0e0" stroke="#ec5a5e" stroke-width="0.75"/>
<circle cx="520.6" cy="270.9" r="1.35" fill="#fbe0e0" stroke="#ec5a5e" stroke-width="0.75"/>
<circle cx="523.4" cy="269.9" r="1.35" fill="#fbe0e0" stroke="#ec5a5e" stroke-width="0.75"/>
<circle cx="526.1" cy="268.6" r="1.35" fill="#fbe0e0" stroke="#ec5a5e" stroke-width="0.75"/>
<circle cx="528.9" cy="267.9" r="1.35" fill="#fbe0e0" stroke="#ec5a5e" stroke-width="0.75"/>
<circle cx="531.6" cy="267.4" r="1.35" fill="#fbe0e0" stroke="#ec5a5e" stroke-width="0.75"/>
<circle cx="534.4" cy="265.8" r="1.35" fill="#fbe0e0" stroke="#ec5a5e" stroke-width="0.75"/>
<circle cx="537.1" cy="265.1" r="1.35" fill="#fbe0e0" stroke="#ec5a5e" stroke-width="0.75"/>
<circle cx="539.9" cy="265.5" r="1.35" fill="#fbe0e0" stroke="#ec5a5e" stroke-width="0.75"/>
<circle cx="542.6" cy="266.3" r="1.35" fill="#fbe0e0" stroke="#ec5a5e" stroke-width="0.75"/>
<circle cx="545.4" cy="264.4" r="1.35" fill="#fbe0e0" stroke="#ec5a5e" stroke-width="0.75"/>
<circle cx="548.1" cy="262.9" r="1.35" fill="#fbe0e0" stroke="#ec5a5e" stroke-width="0.75"/>
<circle cx="550.9" cy="264.6" r="1.35" fill="#fbe0e0" stroke="#ec5a5e" stroke-width="0.75"/>
<circle cx="553.6" cy="261.8" r="1.35" fill="#fbe0e0" stroke="#ec5a5e" stroke-width="0.75"/>
<circle cx="556.4" cy="262.8" r="1.35" fill="#fbe0e0" stroke="#ec5a5e" stroke-width="0.75"/>
<circle cx="559.1" cy="263.4" r="1.35" fill="#fbe0e0" stroke="#ec5a5e" stroke-width="0.75"/>
<circle cx="561.9" cy="262.5" r="1.35" fill="#fbe0e0" stroke="#ec5a5e" stroke-width="0.75"/>
<rect x="442.3" y="252.0" width="120.40000000000003" height="46.30000000000001" fill="none" stroke="#909090" stroke-width="0.9"/>
<line x1="456.3" y1="252.0" x2="456.3" y2="253.8" stroke="#777" stroke-width="0.8"/>
<line x1="456.3" y1="298.3" x2="456.3" y2="300.8" stroke="#777" stroke-width="0.8"/>
<text x="453.8" y="313.3" font-size="10.8" font-weight="normal" fill="#222" text-anchor="middle" font-family='"Liberation Sans", sans-serif' textLength="21" lengthAdjust="spacingAndGlyphs" >-100</text>
<line x1="504.3" y1="252.0" x2="504.3" y2="253.8" stroke="#777" stroke-width="0.8"/>
<line x1="504.3" y1="298.3" x2="504.3" y2="300.8" stroke="#777" stroke-width="0.8"/>
<text x="504.3" y="313.3" font-size="10.8" font-weight="normal" fill="#222" text-anchor="middle" font-family='"Liberation Sans", sans-serif' textLength="5.5" lengthAdjust="spacingAndGlyphs" >0</text>
<line x1="552.3" y1="252.0" x2="552.3" y2="253.8" stroke="#777" stroke-width="0.8"/>
<line x1="552.3" y1="298.3" x2="552.3" y2="300.8" stroke="#777" stroke-width="0.8"/>
<text x="552.3" y="313.3" font-size="10.8" font-weight="normal" fill="#222" text-anchor="middle" font-family='"Liberation Sans", sans-serif' textLength="16.5" lengthAdjust="spacingAndGlyphs" >100</text>
<line x1="439.8" y1="253.09999999999997" x2="442.3" y2="253.09999999999997" stroke="#777" stroke-width="0.8"/>
<text x="440" y="256.99999999999994" font-size="10.8" font-weight="normal" fill="#222" text-anchor="end" font-family='"Liberation Sans", sans-serif' textLength="16.3" lengthAdjust="spacingAndGlyphs" >0.2</text>
<line x1="439.8" y1="275.4" x2="442.3" y2="275.4" stroke="#777" stroke-width="0.8"/>
<text x="440" y="279.29999999999995" font-size="10.8" font-weight="normal" fill="#222" text-anchor="end" font-family='"Liberation Sans", sans-serif' textLength="16.3" lengthAdjust="spacingAndGlyphs" >0.0</text>
<line x1="439.8" y1="297.7" x2="442.3" y2="297.7" stroke="#777" stroke-width="0.8"/>
<text x="440" y="301.59999999999997" font-size="10.8" font-weight="normal" fill="#222" text-anchor="end" font-family='"Liberation Sans", sans-serif' textLength="20.8" lengthAdjust="spacingAndGlyphs" >-0.2</text>
<line x1="442.3" y1="264.25" x2="443.8" y2="264.25" stroke="#777" stroke-width="0.8"/>
<line x1="442.3" y1="286.54999999999995" x2="443.8" y2="286.54999999999995" stroke="#777" stroke-width="0.8"/>
<text x="506.5" y="328.2" font-size="10.8" font-weight="normal" fill="#222" text-anchor="middle" font-family='"Liberation Sans", sans-serif' textLength="56.2" lengthAdjust="spacingAndGlyphs" >Position (Å)</text>
<text x="0" y="0" transform="translate(414.8,273.5) rotate(-90)" font-size="10" fill="#222" text-anchor="middle" font-family='"Liberation Sans", sans-serif'>E<tspan font-size="6.5" dy="2">mid</tspan><tspan dy="-2">−E</tspan><tspan font-size="6.5" dy="2">F</tspan><tspan dy="-2"> (eV)</tspan></text>
<rect x="41.40" y="290.20" width="10.29" height="8.20" fill="#f5c5c6" stroke="#e99496" stroke-width="0.6"/>
<rect x="51.69" y="282.00" width="10.29" height="16.40" fill="#f5c5c6" stroke="#e99496" stroke-width="0.6"/>
<rect x="61.98" y="273.80" width="10.29" height="24.60" fill="#f5c5c6" stroke="#e99496" stroke-width="0.6"/>
<rect x="72.27" y="257.40" width="10.29" height="41.00" fill="#f5c5c6" stroke="#e99496" stroke-width="0.6"/>
<rect x="82.56" y="257.40" width="10.29" height="41.00" fill="#f5c5c6" stroke="#e99496" stroke-width="0.6"/>
<rect x="92.85" y="273.80" width="10.29" height="24.60" fill="#f5c5c6" stroke="#e99496" stroke-width="0.6"/>
<rect x="103.14" y="273.80" width="10.29" height="24.60" fill="#f5c5c6" stroke="#e99496" stroke-width="0.6"/>
<rect x="113.43" y="191.80" width="10.29" height="106.60" fill="#f5c5c6" stroke="#e99496" stroke-width="0.6"/>
<rect x="123.72" y="208.20" width="10.29" height="90.20" fill="#f5c5c6" stroke="#e99496" stroke-width="0.6"/>
<rect x="134.01" y="249.20" width="10.29" height="49.20" fill="#f5c5c6" stroke="#e99496" stroke-width="0.6"/>
<rect x="144.30" y="290.20" width="10.29" height="8.20" fill="#f5c5c6" stroke="#e99496" stroke-width="0.6"/>
<rect x="154.59" y="290.20" width="10.29" height="8.20" fill="#f5c5c6" stroke="#e99496" stroke-width="0.6"/>
<polyline points="41.40,296.97 42.09,296.78 42.77,296.58 43.46,296.36 44.14,296.11 44.83,295.84 45.52,295.55 46.20,295.22 46.89,294.87 47.57,294.49 48.26,294.08 48.95,293.63 49.63,293.15 50.32,292.63 51.00,292.07 51.69,291.48 52.38,290.85 53.06,290.17 53.75,289.46 54.43,288.70 55.12,287.90 55.81,287.07 56.49,286.19 57.18,285.27 57.86,284.31 58.55,283.32 59.24,282.29 59.92,281.23 60.61,280.14 61.29,279.02 61.98,277.88 62.67,276.71 63.35,275.53 64.04,274.34 64.72,273.14 65.41,271.94 66.10,270.74 66.78,269.54 67.47,268.37 68.15,267.21 68.84,266.07 69.53,264.97 70.21,263.91 70.90,262.88 71.58,261.91 72.27,260.99 72.96,260.13 73.64,259.34 74.33,258.61 75.01,257.96 75.70,257.39 76.39,256.90 77.07,256.49 77.76,256.17 78.44,255.94 79.13,255.80 79.82,255.75 80.50,255.80 81.19,255.93 81.87,256.16 82.56,256.47 83.25,256.87 83.93,257.35 84.62,257.91 85.30,258.55 85.99,259.26 86.68,260.03 87.36,260.86 88.05,261.74 88.73,262.66 89.42,263.63 90.11,264.62 90.79,265.63 91.48,266.65 92.16,267.68 92.85,268.69 93.54,269.69 94.22,270.65 94.91,271.56 95.59,272.43 96.28,273.22 96.97,273.92 97.65,274.53 98.34,275.03 99.02,275.39 99.71,275.62 100.40,275.69 101.08,275.58 101.77,275.29 102.45,274.79 103.14,274.07 103.83,273.13 104.51,271.94 105.20,270.50 105.88,268.81 106.57,266.85 107.26,264.62 107.94,262.13 108.63,259.37 109.31,256.37 110.00,253.12 110.69,249.65 111.37,245.97 112.06,242.11 112.74,238.11 113.43,233.99 114.12,229.79 114.80,225.55 115.49,221.32 116.17,217.14 116.86,213.06 117.55,209.14 118.23,205.41 118.92,201.93 119.60,198.74 120.29,195.88 120.98,193.40 121.66,191.33 122.35,189.70 123.03,188.54 123.72,187.86 124.41,187.67 125.09,187.98 125.78,188.79 126.46,190.08 127.15,191.84 127.84,194.06 128.52,196.68 129.21,199.70 129.89,203.06 130.58,206.73 131.27,210.66 131.95,214.80 132.64,219.11 133.32,223.55 134.01,228.06 134.70,232.60 135.38,237.13 136.07,241.60 136.75,246.00 137.44,250.27 138.13,254.40 138.81,258.36 139.50,262.13 140.18,265.69 140.87,269.04 141.56,272.17 142.24,275.07 142.93,277.75 143.61,280.20 144.30,282.43 144.99,284.46 145.67,286.28 146.36,287.92 147.04,289.37 147.73,290.66 148.42,291.79 149.10,292.79 149.79,293.66 150.47,294.41 151.16,295.05 151.85,295.61 152.53,296.08 153.22,296.49 153.90,296.83 154.59,297.11 155.28,297.35 155.96,297.55 156.65,297.71 157.33,297.85 158.02,297.96 158.71,298.05 159.39,298.12 160.08,298.18 160.76,298.23 161.45,298.26 162.14,298.29 162.82,298.32 163.51,298.34 164.19,298.35 164.88,298.36 165.57,298.37 166.25,298.38 166.94,298.38 167.62,298.39 168.31,298.39 169.00,298.39 169.68,298.40 170.37,298.40 171.05,298.40 171.74,298.40 172.43,298.40 173.11,298.40 173.80,298.40 174.48,298.40 175.17,298.40 175.86,298.40 176.54,298.40 177.23,298.40 177.91,298.40" fill="none" stroke="#3a3f9a" stroke-width="0.9"/>
<rect x="41.4" y="154.0" width="136.29999999999998" height="144.39999999999998" fill="none" stroke="#a8a8a8" stroke-width="0.9"/>
<line x1="37.4" y1="298.4" x2="41.4" y2="298.4" stroke="#a8a8a8" stroke-width="0.9"/>
<text x="36" y="302.59999999999997" font-size="10.8" font-weight="normal" fill="#222" text-anchor="end" font-family='"Liberation Sans", sans-serif' textLength="5.2" lengthAdjust="spacingAndGlyphs" >0</text>
<line x1="37.4" y1="257.4" x2="41.4" y2="257.4" stroke="#a8a8a8" stroke-width="0.9"/>
<text x="36" y="261.59999999999997" font-size="10.8" font-weight="normal" fill="#222" text-anchor="end" font-family='"Liberation Sans", sans-serif' textLength="5.2" lengthAdjust="spacingAndGlyphs" >5</text>
<line x1="37.4" y1="216.39999999999998" x2="41.4" y2="216.39999999999998" stroke="#a8a8a8" stroke-width="0.9"/>
<text x="36" y="220.59999999999997" font-size="10.8" font-weight="normal" fill="#222" text-anchor="end" font-family='"Liberation Sans", sans-serif' textLength="11" lengthAdjust="spacingAndGlyphs" >10</text>
<line x1="37.4" y1="175.39999999999998" x2="41.4" y2="175.39999999999998" stroke="#a8a8a8" stroke-width="0.9"/>
<text x="36" y="179.59999999999997" font-size="10.8" font-weight="normal" fill="#222" text-anchor="end" font-family='"Liberation Sans", sans-serif' textLength="11" lengthAdjust="spacingAndGlyphs" >15</text>
<line x1="41.4" y1="298.4" x2="41.4" y2="300.9" stroke="#a8a8a8" stroke-width="0.9"/>
<text x="41.4" y="313" font-size="10.8" font-weight="normal" fill="#222" text-anchor="middle" font-family='"Liberation Sans", sans-serif' textLength="15.5" lengthAdjust="spacingAndGlyphs" >0.0</text>
<line x1="75.7" y1="298.4" x2="75.7" y2="300.9" stroke="#a8a8a8" stroke-width="0.9"/>
<text x="75.7" y="313" font-size="10.8" font-weight="normal" fill="#222" text-anchor="middle" font-family='"Liberation Sans", sans-serif' textLength="15.5" lengthAdjust="spacingAndGlyphs" >0.1</text>
<line x1="110.0" y1="298.4" x2="110.0" y2="300.9" stroke="#a8a8a8" stroke-width="0.9"/>
<text x="110.0" y="313" font-size="10.8" font-weight="normal" fill="#222" text-anchor="middle" font-family='"Liberation Sans", sans-serif' textLength="15.5" lengthAdjust="spacingAndGlyphs" >0.2</text>
<line x1="144.3" y1="298.4" x2="144.3" y2="300.9" stroke="#a8a8a8" stroke-width="0.9"/>
<text x="144.3" y="313" font-size="10.8" font-weight="normal" fill="#222" text-anchor="middle" font-family='"Liberation Sans", sans-serif' textLength="15.5" lengthAdjust="spacingAndGlyphs" >0.3</text>
<line x1="178.60000000000002" y1="298.4" x2="178.60000000000002" y2="300.9" stroke="#a8a8a8" stroke-width="0.9"/>
<text x="178.60000000000002" y="313" font-size="10.8" font-weight="normal" fill="#222" text-anchor="middle" font-family='"Liberation Sans", sans-serif' textLength="15.5" lengthAdjust="spacingAndGlyphs" >0.4</text>
<text x="110" y="328.3" font-size="10.8" font-weight="normal" fill="#222" text-anchor="middle" font-family='"Liberation Sans", sans-serif' textLength="106.8" lengthAdjust="spacingAndGlyphs" >Band edge offset (eV)</text>
<text x="0" y="0" transform="translate(19.3,239) rotate(-90)" font-size="10.8" fill="#222" text-anchor="middle" font-family='"Liberation Sans", sans-serif' textLength="33.3" lengthAdjust="spacingAndGlyphs">Counts</text>
<text x="6.3" y="168.3" font-size="16.9" font-weight="normal" fill="#1a1a1a" text-anchor="start" font-family='"Liberation Sans", sans-serif' textLength="18.0" lengthAdjust="spacingAndGlyphs" >(d)</text>
<text x="45.2" y="168.8" font-size="10.3" font-weight="normal" fill="#222" text-anchor="start" font-family='"Liberation Sans", sans-serif' textLength="41" lengthAdjust="spacingAndGlyphs" >SL-WSe<tspan font-size="7.5" dy="2.8">2</tspan></text>
<text x="79.8" y="232.4" font-size="10.5" font-weight="normal" fill="#222" text-anchor="middle" font-family='"Liberation Sans", sans-serif' textLength="39.6" lengthAdjust="spacingAndGlyphs" >2L-QF3L</text>
<text x="80.6" y="247.2" font-size="10.5" font-weight="normal" fill="#222" text-anchor="middle" font-family='"Liberation Sans", sans-serif' textLength="43.3" lengthAdjust="spacingAndGlyphs" >112 meV</text>
<text x="124.3" y="168.2" font-size="10.5" font-weight="normal" fill="#222" text-anchor="middle" font-family='"Liberation Sans", sans-serif' textLength="39.6" lengthAdjust="spacingAndGlyphs" >1L-QF2L</text>
<text x="124.3" y="183" font-size="10.5" font-weight="normal" fill="#222" text-anchor="middle" font-family='"Liberation Sans", sans-serif' textLength="43.8" lengthAdjust="spacingAndGlyphs" >242 meV</text>
</svg>
</body></html>
